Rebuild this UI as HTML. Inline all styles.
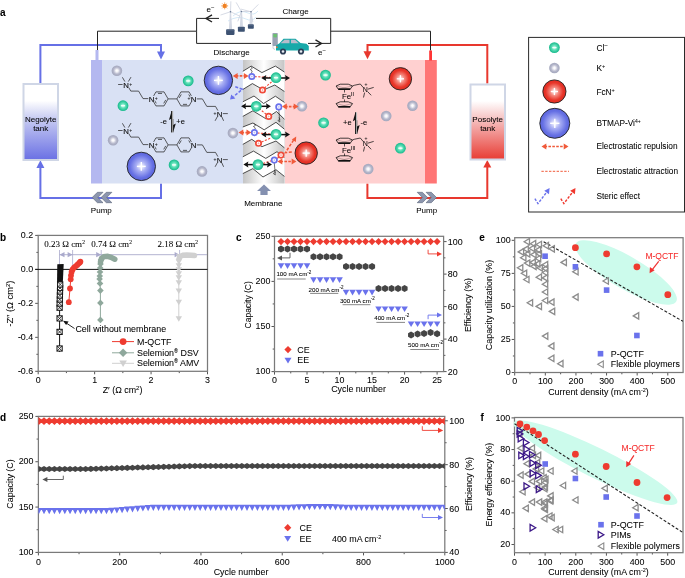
<!DOCTYPE html>
<html><head><meta charset="utf-8"><title>Figure</title>
<style>html,body{margin:0;padding:0;background:#fff;} svg{display:block;font-family:"Liberation Sans", sans-serif;will-change:transform;}</style>
</head><body><svg width="685" height="578" viewBox="0 0 685 578">
<defs>
 <radialGradient id="gGreen" cx="50%" cy="50%" r="50%"><stop offset="0" stop-color="#e8fff6"/><stop offset="0.45" stop-color="#5fe0b8"/><stop offset="1" stop-color="#14b88a"/></radialGradient>
 <radialGradient id="gGray" cx="50%" cy="50%" r="50%"><stop offset="0" stop-color="#ffffff"/><stop offset="0.3" stop-color="#e6e6ee"/><stop offset="0.65" stop-color="#b4b6ca"/><stop offset="1" stop-color="#a2a6bc"/></radialGradient>
 <radialGradient id="gRed" cx="50%" cy="50%" r="50%"><stop offset="0" stop-color="#ffffff"/><stop offset="0.35" stop-color="#f48a80"/><stop offset="0.75" stop-color="#e8362a"/><stop offset="1" stop-color="#e02a20"/></radialGradient>
 <radialGradient id="gBlue" cx="50%" cy="50%" r="50%"><stop offset="0" stop-color="#ffffff"/><stop offset="0.35" stop-color="#aab0f4"/><stop offset="0.8" stop-color="#6670e4"/><stop offset="1" stop-color="#5a64dc"/></radialGradient>
 <linearGradient id="gNeg" x1="0" y1="0" x2="0" y2="1"><stop offset="0" stop-color="#ffffff"/><stop offset="0.22" stop-color="#ffffff"/><stop offset="0.45" stop-color="#c8ccf2"/><stop offset="1" stop-color="#6a70e4"/></linearGradient>
 <linearGradient id="gPos" x1="0" y1="0" x2="0" y2="1"><stop offset="0" stop-color="#ffffff"/><stop offset="0.22" stop-color="#ffffff"/><stop offset="0.45" stop-color="#f6c4c4"/><stop offset="1" stop-color="#e83c34"/></linearGradient>
 <linearGradient id="gMem" x1="0" y1="0" x2="1" y2="0"><stop offset="0" stop-color="#c4c4c4"/><stop offset="0.5" stop-color="#ffffff"/><stop offset="1" stop-color="#c4c4c4"/></linearGradient>
 <marker id="mBk" viewBox="0 0 10 10" refX="9" refY="5" markerWidth="4" markerHeight="4" orient="auto-start-reverse"><path d="M0,0 L10,5 L0,10 z" fill="#000"/></marker>
</defs>
<text x="0.00" y="15.80" font-size="10" text-anchor="start" fill="#000" font-weight="bold" font-family='"Liberation Sans", sans-serif'  stroke="#000" stroke-width="0.06">a</text>
<path d="M212,14.8 L206,18.4 L212,22" stroke="#222" fill="none" stroke-width="1.4" />
<path d="M315.5,39.8 L321.5,43.4 L315.5,47" stroke="#222" fill="none" stroke-width="1.4" />
<text x="206.60" y="12.30" font-size="8" text-anchor="start" fill="#000" font-weight="normal" font-family='"Liberation Sans", sans-serif'  stroke="#000" stroke-width="0.06">e<tspan dy="-3.2" font-size="6">−</tspan></text>
<text x="318.00" y="55.30" font-size="8" text-anchor="start" fill="#000" font-weight="normal" font-family='"Liberation Sans", sans-serif'  stroke="#000" stroke-width="0.06">e<tspan dy="-3.2" font-size="6">−</tspan></text>
<text x="295.50" y="14.00" font-size="8" text-anchor="middle" fill="#000" font-weight="normal" font-family='"Liberation Sans", sans-serif'  stroke="#000" stroke-width="0.06">Charge</text>
<text x="231.60" y="55.30" font-size="8" text-anchor="middle" fill="#000" font-weight="normal" font-family='"Liberation Sans", sans-serif'  stroke="#000" stroke-width="0.06">Discharge</text>
<path d="M40.4,83 L40.4,44.9 L161,44.9 L161,55" stroke="#6670e6" fill="none" stroke-width="2" />
<path d="M157,51.6 L165,51.6 L161,59.5 z" stroke="none" fill="#6670e6" stroke-width="1" />
<path d="M161,183.5 L161,198 L40.4,198 L40.4,167" stroke="#6670e6" fill="none" stroke-width="2" />
<path d="M36.4,168 L44.4,168 L40.4,160.3 z" stroke="none" fill="#6670e6" stroke-width="1" />
<path d="M367.5,53 L367.5,44.9 L487.3,44.9 L487.3,83.5" stroke="#e8382e" fill="none" stroke-width="2" />
<path d="M363.5,51.3 L371.5,51.3 L367.5,59.2 z" stroke="none" fill="#e8382e" stroke-width="1" />
<path d="M367.4,183.5 L367.4,198 L487.3,198 L487.3,167" stroke="#e8382e" fill="none" stroke-width="2" />
<path d="M483.3,167.6 L491.3,167.6 L487.3,160 z" stroke="none" fill="#e8382e" stroke-width="1" />
<path d="M97.5,50 L97.5,31.2 L196.6,31.2" stroke="#222" fill="none" stroke-width="1" />
<path d="M196.6,31.2 L196.6,18.4 L219,18.4 M256,18.4 L330.7,18.4 L330.7,43.4 L308,43.4 M271,43.4 L196.6,43.4 L196.6,31.2" stroke="#222" fill="none" stroke-width="1" />
<path d="M330.7,31.2 L430.5,31.2 L430.5,50.5" stroke="#222" fill="none" stroke-width="1" />
<rect x="23.50" y="84.00" width="34.50" height="76.00" fill="url(#gNeg)" stroke="#cfd6e6" stroke-width="2" />
<text x="40.70" y="121.50" font-size="8" text-anchor="middle" fill="#000" font-weight="normal" font-family='"Liberation Sans", sans-serif'  stroke="#000" stroke-width="0.06">Negolyte</text>
<text x="40.70" y="130.50" font-size="8" text-anchor="middle" fill="#000" font-weight="normal" font-family='"Liberation Sans", sans-serif'  stroke="#000" stroke-width="0.06">tank</text>
<rect x="470.50" y="84.50" width="34.50" height="75.00" fill="url(#gPos)" stroke="#cfd6e6" stroke-width="2" />
<text x="487.70" y="121.50" font-size="8" text-anchor="middle" fill="#000" font-weight="normal" font-family='"Liberation Sans", sans-serif'  stroke="#000" stroke-width="0.06">Posolyte</text>
<text x="487.70" y="130.50" font-size="8" text-anchor="middle" fill="#000" font-weight="normal" font-family='"Liberation Sans", sans-serif'  stroke="#000" stroke-width="0.06">tank</text>
<rect x="102.00" y="60.00" width="141.00" height="123.50" fill="#d9e1f4" stroke="none" stroke-width="1" />
<rect x="91.00" y="60.00" width="11.00" height="123.50" fill="#b4b8f0" stroke="none" stroke-width="1" />
<rect x="95.50" y="50.00" width="3.00" height="10.00" fill="#b4b8f0" stroke="none" stroke-width="1" />
<rect x="285.00" y="60.00" width="140.00" height="123.50" fill="#ffd0d0" stroke="none" stroke-width="1" />
<rect x="425.00" y="60.00" width="11.80" height="123.50" fill="#ff7575" stroke="none" stroke-width="1" />
<rect x="429.20" y="50.50" width="2.80" height="10.00" fill="#ff3434" stroke="none" stroke-width="1" />
<rect x="243.00" y="60.00" width="41.60" height="123.50" fill="url(#gMem)" stroke="none" stroke-width="1" />
<path d="M92.20,197.50 L97.40,192.30 L103.00,192.30 L97.80,197.50 L103.00,202.70 L97.40,202.70 Z" stroke="#5a6478" fill="#8c96ae" stroke-width="0.6" />
<path d="M101.10,197.50 L106.30,192.30 L111.90,192.30 L106.70,197.50 L111.90,202.70 L106.30,202.70 Z" stroke="#5a6478" fill="#8c96ae" stroke-width="0.6" />
<path d="M417.20,192.30 L422.40,192.30 L427.60,197.50 L422.40,202.70 L417.20,202.70 L422.40,197.50 Z" stroke="#5a6478" fill="#8c96ae" stroke-width="0.6" />
<path d="M426.10,192.30 L431.30,192.30 L436.50,197.50 L431.30,202.70 L426.10,202.70 L431.30,197.50 Z" stroke="#5a6478" fill="#8c96ae" stroke-width="0.6" />
<text x="101.30" y="212.60" font-size="8" text-anchor="middle" fill="#000" font-weight="normal" font-family='"Liberation Sans", sans-serif'  stroke="#000" stroke-width="0.06">Pump</text>
<text x="426.70" y="212.60" font-size="8" text-anchor="middle" fill="#000" font-weight="normal" font-family='"Liberation Sans", sans-serif'  stroke="#000" stroke-width="0.06">Pump</text>
<path d="M264,184.5 L271,191 L267.6,191 L267.6,195 L260.4,195 L260.4,191 L257,191 z" stroke="none" fill="#8490b0" stroke-width="1" />
<text x="263.30" y="205.50" font-size="8" text-anchor="middle" fill="#000" font-weight="normal" font-family='"Liberation Sans", sans-serif'  stroke="#000" stroke-width="0.06">Membrane</text>
<rect x="528.60" y="37.40" width="155.90" height="174.60" fill="none" stroke="#2a2a2a" stroke-width="1" />
<path d="M118.1,84.5 L122.6,84.5 M122.4,77.3 L125.0,81.8 M131,77.1 L128.2,81.8" stroke="#2a2a2a" fill="none" stroke-width="0.75" />
<path d="M128.6,87.3 L130.8,91.1 L138.6,91.1 L143,98.6 L148.6,98.6" stroke="#2a2a2a" fill="none" stroke-width="0.75" fill="none"/>
<path d="M151.90,98.90 L155.95,91.89 M155.95,91.89 L164.05,91.89 M164.05,91.89 L168.10,98.90 M168.10,98.90 L164.05,105.91 M164.05,105.91 L155.95,105.91 M155.95,105.91 L151.90,98.90 " stroke="#2a2a2a" fill="none" stroke-width="0.75" />
<line x1="157.98" y1="93.43" x2="162.02" y2="93.43" stroke="#2a2a2a" stroke-width="0.75" />
<line x1="165.75" y1="99.88" x2="163.73" y2="103.39" stroke="#2a2a2a" stroke-width="0.75" />
<line x1="156.27" y1="103.39" x2="154.25" y2="99.88" stroke="#2a2a2a" stroke-width="0.75" />
<line x1="168.10" y1="98.90" x2="176.90" y2="98.90" stroke="#2a2a2a" stroke-width="0.75" />
<path d="M176.90,98.90 L180.95,91.89 M180.95,91.89 L189.05,91.89 M189.05,91.89 L193.10,98.90 M193.10,98.90 L189.05,105.91 M189.05,105.91 L180.95,105.91 M180.95,105.91 L176.90,98.90 " stroke="#2a2a2a" fill="none" stroke-width="0.75" />
<line x1="179.25" y1="97.92" x2="181.27" y2="94.41" stroke="#2a2a2a" stroke-width="0.75" />
<line x1="188.73" y1="94.41" x2="190.75" y2="97.92" stroke="#2a2a2a" stroke-width="0.75" />
<line x1="187.02" y1="104.37" x2="182.98" y2="104.37" stroke="#2a2a2a" stroke-width="0.75" />
<path d="M196.5,98.9 L202.4,98.9 L206.8,106.4 L215.5,106.4 L217.9,110.6" stroke="#2a2a2a" fill="none" stroke-width="0.75" />
<path d="M222.6,113.6 L227.8,113.6 M217.3,116.8 L215.1,120.8 M221.8,116.8 L223.6,120.8" stroke="#2a2a2a" fill="none" stroke-width="0.75" />
<rect x="123.00" y="81.70" width="6.20" height="6.00" fill="#d9e1f4" stroke="none" stroke-width="1" />
<text x="126.10" y="87.50" font-size="7.8" text-anchor="middle" fill="#111" font-weight="normal" font-family='"Liberation Sans", sans-serif' stroke="#111" stroke-width="0.15">N</text>
<text x="130.70" y="85.50" font-size="5" text-anchor="middle" fill="#111" font-weight="normal" font-family='"Liberation Sans", sans-serif'  stroke="#111" stroke-width="0.06">+</text>
<rect x="148.50" y="95.90" width="6.20" height="6.00" fill="#d9e1f4" stroke="none" stroke-width="1" />
<text x="151.60" y="101.70" font-size="7.8" text-anchor="middle" fill="#111" font-weight="normal" font-family='"Liberation Sans", sans-serif' stroke="#111" stroke-width="0.15">N</text>
<text x="156.20" y="99.70" font-size="5" text-anchor="middle" fill="#111" font-weight="normal" font-family='"Liberation Sans", sans-serif'  stroke="#111" stroke-width="0.06">+</text>
<rect x="190.40" y="95.90" width="6.20" height="6.00" fill="#d9e1f4" stroke="none" stroke-width="1" />
<text x="193.50" y="101.70" font-size="7.8" text-anchor="middle" fill="#111" font-weight="normal" font-family='"Liberation Sans", sans-serif' stroke="#111" stroke-width="0.15">N</text>
<text x="188.90" y="99.70" font-size="5" text-anchor="middle" fill="#111" font-weight="normal" font-family='"Liberation Sans", sans-serif'  stroke="#111" stroke-width="0.06">+</text>
<rect x="216.40" y="110.90" width="6.20" height="6.00" fill="#d9e1f4" stroke="none" stroke-width="1" />
<text x="219.50" y="116.70" font-size="7.8" text-anchor="middle" fill="#111" font-weight="normal" font-family='"Liberation Sans", sans-serif' stroke="#111" stroke-width="0.15">N</text>
<text x="214.90" y="114.70" font-size="5" text-anchor="middle" fill="#111" font-weight="normal" font-family='"Liberation Sans", sans-serif'  stroke="#111" stroke-width="0.06">+</text>
<path d="M118.1,130.5 L122.6,130.5 M122.4,123.3 L125.0,127.8 M131,123.1 L128.2,127.8" stroke="#2a2a2a" fill="none" stroke-width="0.75" />
<path d="M128.6,133.3 L130.8,137.1 L138.6,137.1 L143,144.6 L148.6,144.6" stroke="#2a2a2a" fill="none" stroke-width="0.75" fill="none"/>
<path d="M151.90,144.90 L155.95,137.89 M155.95,137.89 L164.05,137.89 M164.05,137.89 L168.10,144.90 M168.10,144.90 L164.05,151.91 M164.05,151.91 L155.95,151.91 M155.95,151.91 L151.90,144.90 " stroke="#2a2a2a" fill="none" stroke-width="0.75" />
<line x1="157.98" y1="139.43" x2="162.02" y2="139.43" stroke="#2a2a2a" stroke-width="0.75" />
<line x1="165.75" y1="145.88" x2="163.73" y2="149.39" stroke="#2a2a2a" stroke-width="0.75" />
<line x1="156.27" y1="149.39" x2="154.25" y2="145.88" stroke="#2a2a2a" stroke-width="0.75" />
<line x1="168.10" y1="144.90" x2="176.90" y2="144.90" stroke="#2a2a2a" stroke-width="0.75" />
<path d="M176.90,144.90 L180.95,137.89 M180.95,137.89 L189.05,137.89 M189.05,137.89 L193.10,144.90 M193.10,144.90 L189.05,151.91 M189.05,151.91 L180.95,151.91 M180.95,151.91 L176.90,144.90 " stroke="#2a2a2a" fill="none" stroke-width="0.75" />
<line x1="179.25" y1="143.92" x2="181.27" y2="140.41" stroke="#2a2a2a" stroke-width="0.75" />
<line x1="188.73" y1="140.41" x2="190.75" y2="143.92" stroke="#2a2a2a" stroke-width="0.75" />
<line x1="187.02" y1="150.37" x2="182.98" y2="150.37" stroke="#2a2a2a" stroke-width="0.75" />
<path d="M196.5,144.9 L202.4,144.9 L206.8,152.4 L215.5,152.4 L217.9,156.6" stroke="#2a2a2a" fill="none" stroke-width="0.75" />
<path d="M222.6,159.6 L227.8,159.6 M217.3,162.8 L215.1,166.8 M221.8,162.8 L223.6,166.8" stroke="#2a2a2a" fill="none" stroke-width="0.75" />
<rect x="123.00" y="127.70" width="6.20" height="6.00" fill="#d9e1f4" stroke="none" stroke-width="1" />
<text x="126.10" y="133.50" font-size="7.8" text-anchor="middle" fill="#111" font-weight="normal" font-family='"Liberation Sans", sans-serif' stroke="#111" stroke-width="0.15">N</text>
<text x="130.70" y="131.50" font-size="5" text-anchor="middle" fill="#111" font-weight="normal" font-family='"Liberation Sans", sans-serif'  stroke="#111" stroke-width="0.06">+</text>
<rect x="148.50" y="141.90" width="6.20" height="6.00" fill="#d9e1f4" stroke="none" stroke-width="1" />
<text x="151.60" y="147.70" font-size="7.8" text-anchor="middle" fill="#111" font-weight="normal" font-family='"Liberation Sans", sans-serif' stroke="#111" stroke-width="0.15">N</text>
<text x="156.20" y="145.70" font-size="5" text-anchor="middle" fill="#111" font-weight="normal" font-family='"Liberation Sans", sans-serif'  stroke="#111" stroke-width="0.06">+</text>
<rect x="190.40" y="141.90" width="6.20" height="6.00" fill="#d9e1f4" stroke="none" stroke-width="1" />
<text x="193.50" y="147.70" font-size="7.8" text-anchor="middle" fill="#111" font-weight="normal" font-family='"Liberation Sans", sans-serif' stroke="#111" stroke-width="0.15">N</text>
<rect x="216.40" y="156.90" width="6.20" height="6.00" fill="#d9e1f4" stroke="none" stroke-width="1" />
<text x="219.50" y="162.70" font-size="7.8" text-anchor="middle" fill="#111" font-weight="normal" font-family='"Liberation Sans", sans-serif' stroke="#111" stroke-width="0.15">N</text>
<text x="214.90" y="160.70" font-size="5" text-anchor="middle" fill="#111" font-weight="normal" font-family='"Liberation Sans", sans-serif'  stroke="#111" stroke-width="0.06">+</text>
<rect x="171.40" y="111.00" width="1.80" height="21.40" fill="#b8b8b8" stroke="none" stroke-width="1" />
<path d="M171.60,111.00 L171.60,132.40" stroke="#111" fill="none" stroke-width="0.9" />
<path d="M171.60,111.00 L169.00,120.00 L171.60,118.50 z" stroke="none" fill="#111" stroke-width="1" />
<path d="M173.10,132.40 L173.10,119.00" stroke="#777" fill="none" stroke-width="0.8" />
<path d="M173.10,132.40 L175.80,123.40 L173.10,124.90 z" stroke="none" fill="#111" stroke-width="1" />
<text x="163.70" y="123.80" font-size="7.5" text-anchor="middle" fill="#000" font-weight="normal" font-family='"Liberation Sans", sans-serif'  stroke="#000" stroke-width="0.06">-e</text>
<text x="180.60" y="123.80" font-size="7.5" text-anchor="middle" fill="#000" font-weight="normal" font-family='"Liberation Sans", sans-serif'  stroke="#000" stroke-width="0.06">+e</text>
<circle cx="116.90" cy="70.70" r="5.30" fill="url(#gGray)" stroke="none" stroke-width="1" />
<line x1="115.30" y1="70.70" x2="118.50" y2="70.70" stroke="#fff" stroke-width="0.8" opacity="0.8"/>
<line x1="116.90" y1="69.10" x2="116.90" y2="72.30" stroke="#fff" stroke-width="0.8" opacity="0.8"/>
<circle cx="113.10" cy="140.30" r="5.30" fill="url(#gGray)" stroke="none" stroke-width="1" />
<line x1="111.50" y1="140.30" x2="114.70" y2="140.30" stroke="#fff" stroke-width="0.8" opacity="0.8"/>
<line x1="113.10" y1="138.70" x2="113.10" y2="141.90" stroke="#fff" stroke-width="0.8" opacity="0.8"/>
<circle cx="232.90" cy="133.10" r="5.30" fill="url(#gGray)" stroke="none" stroke-width="1" />
<line x1="231.30" y1="133.10" x2="234.50" y2="133.10" stroke="#fff" stroke-width="0.8" opacity="0.8"/>
<line x1="232.90" y1="131.50" x2="232.90" y2="134.70" stroke="#fff" stroke-width="0.8" opacity="0.8"/>
<circle cx="202.00" cy="171.40" r="5.30" fill="url(#gGray)" stroke="none" stroke-width="1" />
<line x1="200.40" y1="171.40" x2="203.60" y2="171.40" stroke="#fff" stroke-width="0.8" opacity="0.8"/>
<line x1="202.00" y1="169.80" x2="202.00" y2="173.00" stroke="#fff" stroke-width="0.8" opacity="0.8"/>
<circle cx="188.20" cy="80.90" r="5.40" fill="url(#gGreen)" stroke="none" stroke-width="1" />
<line x1="186.10" y1="80.90" x2="190.30" y2="80.90" stroke="#f4fffb" stroke-width="1.3" />
<circle cx="123.00" cy="105.70" r="5.40" fill="url(#gGreen)" stroke="none" stroke-width="1" />
<line x1="120.90" y1="105.70" x2="125.10" y2="105.70" stroke="#f4fffb" stroke-width="1.3" />
<circle cx="174.10" cy="164.90" r="5.40" fill="url(#gGreen)" stroke="none" stroke-width="1" />
<line x1="172.00" y1="164.90" x2="176.20" y2="164.90" stroke="#f4fffb" stroke-width="1.3" />
<circle cx="218.40" cy="80.40" r="14.20" fill="url(#gBlue)" stroke="#222" stroke-width="0.9" />
<line x1="214.00" y1="80.40" x2="222.80" y2="80.40" stroke="#fff" stroke-width="1.4" />
<line x1="218.40" y1="76.00" x2="218.40" y2="84.80" stroke="#fff" stroke-width="1.4" />
<circle cx="141.30" cy="166.40" r="14.20" fill="url(#gBlue)" stroke="#222" stroke-width="0.9" />
<line x1="136.90" y1="166.40" x2="145.70" y2="166.40" stroke="#fff" stroke-width="1.4" />
<line x1="141.30" y1="162.00" x2="141.30" y2="170.80" stroke="#fff" stroke-width="1.4" />
<path d="M336.10,86.00 L340.20,84.20 L348.30,84.20 L352.50,86.00 L350.20,89.20 L338.30,89.20 Z" stroke="#111" fill="none" stroke-width="0.8" />
<path d="M338.30,89.20 L350.20,89.20" stroke="#111" fill="none" stroke-width="1.6" />
<path d="M336.10,86.00 L350.20,89.20 M352.50,86.00 L338.30,89.20" stroke="#111" fill="none" stroke-width="0.4" opacity="0.6"/>
<line x1="344.50" y1="90.00" x2="344.50" y2="92.50" stroke="#111" stroke-width="0.7" />
<text x="342.00" y="98.80" font-size="7.8" text-anchor="start" fill="#000" font-weight="normal" font-family='"Liberation Sans", sans-serif'  stroke="#000" stroke-width="0.06">Fe<tspan dy="-3.2" font-size="5.2">II</tspan></text>
<line x1="344.50" y1="99.50" x2="344.50" y2="102.00" stroke="#111" stroke-width="0.7" />
<path d="M336.10,103.60 L340.20,101.80 L348.30,101.80 L352.50,103.60 L350.20,106.80 L338.30,106.80 Z" stroke="#111" fill="none" stroke-width="0.8" />
<path d="M338.30,106.80 L350.20,106.80" stroke="#111" fill="none" stroke-width="1.6" />
<path d="M336.10,103.60 L350.20,106.80 M352.50,103.60 L338.30,106.80" stroke="#111" fill="none" stroke-width="0.4" opacity="0.6"/>
<path d="M352.5,86 L354.2,85.3 L360.3,84 L363.3,87.6" stroke="#111" fill="none" stroke-width="0.75" />
<path d="M367.8,89.2 L373.7,87.4 M367.6,91.6 L371.2,95.3 M364.6,92.6 L363.5,97.5" stroke="#111" fill="none" stroke-width="0.75" />
<text x="365.40" y="92.40" font-size="7" text-anchor="middle" fill="#111" font-weight="normal" font-family='"Liberation Sans", sans-serif'  stroke="#111" stroke-width="0.06">N</text>
<text x="366.00" y="86.00" font-size="5" text-anchor="middle" fill="#111" font-weight="normal" font-family='"Liberation Sans", sans-serif'  stroke="#111" stroke-width="0.06">+</text>
<path d="M336.10,140.00 L340.20,138.20 L348.30,138.20 L352.50,140.00 L350.20,143.20 L338.30,143.20 Z" stroke="#111" fill="none" stroke-width="0.8" />
<path d="M338.30,143.20 L350.20,143.20" stroke="#111" fill="none" stroke-width="1.6" />
<path d="M336.10,140.00 L350.20,143.20 M352.50,140.00 L338.30,143.20" stroke="#111" fill="none" stroke-width="0.4" opacity="0.6"/>
<line x1="344.50" y1="144.00" x2="344.50" y2="146.50" stroke="#111" stroke-width="0.7" />
<text x="342.00" y="152.80" font-size="7.8" text-anchor="start" fill="#000" font-weight="normal" font-family='"Liberation Sans", sans-serif'  stroke="#000" stroke-width="0.06">Fe<tspan dy="-3.2" font-size="5.2">III</tspan></text>
<line x1="344.50" y1="153.50" x2="344.50" y2="156.00" stroke="#111" stroke-width="0.7" />
<path d="M336.10,157.60 L340.20,155.80 L348.30,155.80 L352.50,157.60 L350.20,160.80 L338.30,160.80 Z" stroke="#111" fill="none" stroke-width="0.8" />
<path d="M338.30,160.80 L350.20,160.80" stroke="#111" fill="none" stroke-width="1.6" />
<path d="M336.10,157.60 L350.20,160.80 M352.50,157.60 L338.30,160.80" stroke="#111" fill="none" stroke-width="0.4" opacity="0.6"/>
<path d="M352.5,140 L354.2,139.3 L360.3,138 L363.3,141.6" stroke="#111" fill="none" stroke-width="0.75" />
<path d="M367.8,143.2 L373.7,141.4 M367.6,145.6 L371.2,149.3 M364.6,146.6 L363.5,151.5" stroke="#111" fill="none" stroke-width="0.75" />
<text x="365.40" y="146.40" font-size="7" text-anchor="middle" fill="#111" font-weight="normal" font-family='"Liberation Sans", sans-serif'  stroke="#111" stroke-width="0.06">N</text>
<text x="366.00" y="140.00" font-size="5" text-anchor="middle" fill="#111" font-weight="normal" font-family='"Liberation Sans", sans-serif'  stroke="#111" stroke-width="0.06">+</text>
<rect x="355.30" y="112.30" width="1.80" height="21.70" fill="#b8b8b8" stroke="none" stroke-width="1" />
<path d="M355.50,112.30 L355.50,134.00" stroke="#111" fill="none" stroke-width="0.9" />
<path d="M355.50,112.30 L352.90,121.30 L355.50,119.80 z" stroke="none" fill="#111" stroke-width="1" />
<path d="M357.00,134.00 L357.00,120.30" stroke="#777" fill="none" stroke-width="0.8" />
<path d="M357.00,134.00 L359.70,125.00 L357.00,126.50 z" stroke="none" fill="#111" stroke-width="1" />
<text x="347.30" y="124.80" font-size="7.5" text-anchor="middle" fill="#000" font-weight="normal" font-family='"Liberation Sans", sans-serif'  stroke="#000" stroke-width="0.06">+e</text>
<text x="363.80" y="124.80" font-size="7.5" text-anchor="middle" fill="#000" font-weight="normal" font-family='"Liberation Sans", sans-serif'  stroke="#000" stroke-width="0.06">-e</text>
<circle cx="301.90" cy="106.20" r="5.30" fill="url(#gGray)" stroke="none" stroke-width="1" />
<line x1="300.30" y1="106.20" x2="303.50" y2="106.20" stroke="#fff" stroke-width="0.8" opacity="0.8"/>
<line x1="301.90" y1="104.60" x2="301.90" y2="107.80" stroke="#fff" stroke-width="0.8" opacity="0.8"/>
<circle cx="412.50" cy="105.70" r="5.30" fill="url(#gGray)" stroke="none" stroke-width="1" />
<line x1="410.90" y1="105.70" x2="414.10" y2="105.70" stroke="#fff" stroke-width="0.8" opacity="0.8"/>
<line x1="412.50" y1="104.10" x2="412.50" y2="107.30" stroke="#fff" stroke-width="0.8" opacity="0.8"/>
<circle cx="386.20" cy="116.00" r="5.30" fill="url(#gGray)" stroke="none" stroke-width="1" />
<line x1="384.60" y1="116.00" x2="387.80" y2="116.00" stroke="#fff" stroke-width="0.8" opacity="0.8"/>
<line x1="386.20" y1="114.40" x2="386.20" y2="117.60" stroke="#fff" stroke-width="0.8" opacity="0.8"/>
<circle cx="368.20" cy="169.00" r="5.30" fill="url(#gGray)" stroke="none" stroke-width="1" />
<line x1="366.60" y1="169.00" x2="369.80" y2="169.00" stroke="#fff" stroke-width="0.8" opacity="0.8"/>
<line x1="368.20" y1="167.40" x2="368.20" y2="170.60" stroke="#fff" stroke-width="0.8" opacity="0.8"/>
<circle cx="325.50" cy="75.10" r="5.40" fill="url(#gGreen)" stroke="none" stroke-width="1" />
<line x1="323.40" y1="75.10" x2="327.60" y2="75.10" stroke="#f4fffb" stroke-width="1.3" />
<circle cx="323.60" cy="122.80" r="5.40" fill="url(#gGreen)" stroke="none" stroke-width="1" />
<line x1="321.50" y1="122.80" x2="325.70" y2="122.80" stroke="#f4fffb" stroke-width="1.3" />
<circle cx="400.40" cy="148.20" r="5.40" fill="url(#gGreen)" stroke="none" stroke-width="1" />
<line x1="398.30" y1="148.20" x2="402.50" y2="148.20" stroke="#f4fffb" stroke-width="1.3" />
<circle cx="400.40" cy="78.80" r="11.20" fill="url(#gRed)" stroke="#222" stroke-width="0.9" />
<line x1="396.80" y1="78.80" x2="404.00" y2="78.80" stroke="#fff" stroke-width="1.3" />
<line x1="400.40" y1="75.20" x2="400.40" y2="82.40" stroke="#fff" stroke-width="1.3" />
<circle cx="306.20" cy="153.10" r="11.20" fill="url(#gRed)" stroke="#222" stroke-width="0.9" />
<line x1="302.60" y1="153.10" x2="309.80" y2="153.10" stroke="#fff" stroke-width="1.3" />
<line x1="306.20" y1="149.50" x2="306.20" y2="156.70" stroke="#fff" stroke-width="1.3" />
<path d="M242.8,71.3 L251.2,66.1 L261.9,72.6 L275.4,66.1 L284.4,72.0 L284.4,91.5 L274.8,85.0 L263.5,90.0 L252.4,83.6 L242.8,89.5 Z" stroke="none" fill="#ffffff" stroke-width="1" />
<path d="M242.8,101.8 L254.0,96.0 L263.6,103.5 L275.4,96.2 L284.4,102.4 L284.4,119.2 L276.5,111.5 L265.8,118.7 L252.9,110.8 L242.8,116.4 Z" stroke="none" fill="#ffffff" stroke-width="1" />
<path d="M242.8,127.0 L252.9,123.0 L264.2,129.8 L276.0,122.3 L284.4,129.2 L284.4,147.8 L276.0,141.0 L261.9,146.7 L251.8,139.3 L242.8,144.4 Z" stroke="none" fill="#ffffff" stroke-width="1" />
<path d="M242.8,156.8 L253.5,151.1 L265.8,158.4 L277.0,151.7 L284.4,157.3 L284.4,176.4 L276.0,169.7 L263.0,177.0 L252.9,168.6 L242.8,173.6 Z" stroke="none" fill="#ffffff" stroke-width="1" />
<path d="M242.8,71.3 L251.2,66.1 L261.9,72.6 L275.4,66.1 L284.4,72.0" stroke="#222" fill="none" stroke-width="0.8" />
<path d="M242.8,89.5 L252.4,83.6 L263.5,90.0 L274.8,85.0 L284.4,91.5" stroke="#222" fill="none" stroke-width="0.8" />
<path d="M242.8,101.8 L254.0,96.0 L263.6,103.5 L275.4,96.2 L284.4,102.4" stroke="#222" fill="none" stroke-width="0.8" />
<path d="M242.8,116.4 L252.9,110.8 L265.8,118.7 L276.5,111.5 L284.4,119.2" stroke="#222" fill="none" stroke-width="0.8" />
<path d="M242.8,127.0 L252.9,123.0 L264.2,129.8 L276.0,122.3 L284.4,129.2" stroke="#222" fill="none" stroke-width="0.8" />
<path d="M242.8,144.4 L251.8,139.3 L261.9,146.7 L276.0,141.0 L284.4,147.8" stroke="#222" fill="none" stroke-width="0.8" />
<path d="M242.8,156.8 L253.5,151.1 L265.8,158.4 L277.0,151.7 L284.4,157.3" stroke="#222" fill="none" stroke-width="0.8" />
<path d="M242.8,173.6 L252.9,168.6 L263.0,177.0 L276.0,169.7 L284.4,176.4" stroke="#222" fill="none" stroke-width="0.8" />
<path d="M251.20,66.50 L252.20,68.50 L250.20,69.50 L252.20,71.00 L251.20,73.70" stroke="#222" fill="none" stroke-width="0.6" />
<line x1="254.60" y1="76.60" x2="271.00" y2="77.50" stroke="#f04a3a" stroke-width="1.1" stroke-dasharray="2.2,1.4"/>
<line x1="264.50" y1="88.00" x2="272.00" y2="81.50" stroke="#f04a3a" stroke-width="1.1" stroke-dasharray="2.2,1.4"/>
<line x1="264.30" y1="78.00" x2="287.00" y2="78.00" stroke="#111" stroke-width="1.5" />
<path d="M290.00,78.00 L285.00,75.00 L285.80,78.00 L285.00,81.00 z" stroke="none" fill="#111" stroke-width="1" />
<path d="M261.30,78.00 L266.30,75.00 L265.50,78.00 L266.30,81.00 z" stroke="none" fill="#111" stroke-width="1" />
<circle cx="276.00" cy="77.70" r="5.40" fill="url(#gGreen)" stroke="none" stroke-width="1" />
<line x1="273.90" y1="77.70" x2="278.10" y2="77.70" stroke="#f4fffb" stroke-width="1.3" />
<circle cx="251.80" cy="76.50" r="2.70" fill="#fff" stroke="#6a72ec" stroke-width="1.7" />
<line x1="250.70" y1="76.50" x2="252.90" y2="76.50" stroke="#6a72ec" stroke-width="0.5" opacity="0.6"/>
<line x1="251.80" y1="75.40" x2="251.80" y2="77.60" stroke="#6a72ec" stroke-width="0.5" opacity="0.6"/>
<circle cx="262.50" cy="90.00" r="2.70" fill="#fff" stroke="#f04a3a" stroke-width="1.7" />
<line x1="261.40" y1="90.00" x2="263.60" y2="90.00" stroke="#f04a3a" stroke-width="0.5" opacity="0.6"/>
<line x1="262.50" y1="88.90" x2="262.50" y2="91.10" stroke="#f04a3a" stroke-width="0.5" opacity="0.6"/>
<line x1="235.80" y1="75.90" x2="245.60" y2="75.90" stroke="#f05a3a" stroke-width="1.6" stroke-dasharray="2.6,1.3"/>
<path d="M248.60,75.90 L243.80,72.90 L243.80,78.90 z" stroke="none" fill="#f05a3a" stroke-width="1" />
<path d="M232.80,75.90 L237.60,72.90 L237.60,78.90 z" stroke="none" fill="#f05a3a" stroke-width="1" />
<line x1="244.10" y1="106.30" x2="267.90" y2="106.30" stroke="#111" stroke-width="1.5" />
<path d="M270.90,106.30 L265.90,103.30 L266.70,106.30 L265.90,109.30 z" stroke="none" fill="#111" stroke-width="1" />
<path d="M241.10,106.30 L246.10,103.30 L245.30,106.30 L246.10,109.30 z" stroke="none" fill="#111" stroke-width="1" />
<line x1="259.00" y1="108.50" x2="266.50" y2="114.50" stroke="#f04a3a" stroke-width="1.1" stroke-dasharray="2.2,1.4"/>
<circle cx="256.30" cy="106.30" r="5.40" fill="url(#gGreen)" stroke="none" stroke-width="1" />
<line x1="254.20" y1="106.30" x2="258.40" y2="106.30" stroke="#f4fffb" stroke-width="1.3" />
<path d="M278.80,117.50 L279.80,119.50 L277.80,120.50 L279.80,122.00 L278.80,109.70" stroke="#222" fill="none" stroke-width="0.6" />
<circle cx="278.80" cy="106.90" r="2.70" fill="#fff" stroke="#6a72ec" stroke-width="1.7" />
<line x1="277.70" y1="106.90" x2="279.90" y2="106.90" stroke="#6a72ec" stroke-width="0.5" opacity="0.6"/>
<line x1="278.80" y1="105.80" x2="278.80" y2="108.00" stroke="#6a72ec" stroke-width="0.5" opacity="0.6"/>
<circle cx="268.70" cy="116.40" r="2.70" fill="#fff" stroke="#f04a3a" stroke-width="1.7" />
<line x1="267.60" y1="116.40" x2="269.80" y2="116.40" stroke="#f04a3a" stroke-width="0.5" opacity="0.6"/>
<line x1="268.70" y1="115.30" x2="268.70" y2="117.50" stroke="#f04a3a" stroke-width="0.5" opacity="0.6"/>
<line x1="285.00" y1="106.60" x2="295.50" y2="106.60" stroke="#f05a3a" stroke-width="1.6" stroke-dasharray="2.6,1.3"/>
<path d="M298.50,106.60 L293.70,103.60 L293.70,109.60 z" stroke="none" fill="#f05a3a" stroke-width="1" />
<path d="M282.00,106.60 L286.80,103.60 L286.80,109.60 z" stroke="none" fill="#f05a3a" stroke-width="1" />
<path d="M254.40,123.50 L255.40,125.50 L253.40,126.50 L255.40,128.00 L254.40,129.80" stroke="#222" fill="none" stroke-width="0.6" />
<line x1="257.30" y1="133.00" x2="271.00" y2="134.00" stroke="#f04a3a" stroke-width="1.1" stroke-dasharray="2.2,1.4"/>
<line x1="261.50" y1="142.00" x2="271.00" y2="138.00" stroke="#f04a3a" stroke-width="1.1" stroke-dasharray="2.2,1.4"/>
<line x1="264.30" y1="134.60" x2="287.00" y2="134.60" stroke="#111" stroke-width="1.5" />
<path d="M290.00,134.60 L285.00,131.60 L285.80,134.60 L285.00,137.60 z" stroke="none" fill="#111" stroke-width="1" />
<path d="M261.30,134.60 L266.30,131.60 L265.50,134.60 L266.30,137.60 z" stroke="none" fill="#111" stroke-width="1" />
<circle cx="276.00" cy="134.30" r="5.40" fill="url(#gGreen)" stroke="none" stroke-width="1" />
<line x1="273.90" y1="134.30" x2="278.10" y2="134.30" stroke="#f4fffb" stroke-width="1.3" />
<circle cx="254.40" cy="132.60" r="2.70" fill="#fff" stroke="#6a72ec" stroke-width="1.7" />
<line x1="253.30" y1="132.60" x2="255.50" y2="132.60" stroke="#6a72ec" stroke-width="0.5" opacity="0.6"/>
<line x1="254.40" y1="131.50" x2="254.40" y2="133.70" stroke="#6a72ec" stroke-width="0.5" opacity="0.6"/>
<circle cx="258.50" cy="143.30" r="2.70" fill="#fff" stroke="#f04a3a" stroke-width="1.7" />
<line x1="257.40" y1="143.30" x2="259.60" y2="143.30" stroke="#f04a3a" stroke-width="0.5" opacity="0.6"/>
<line x1="258.50" y1="142.20" x2="258.50" y2="144.40" stroke="#f04a3a" stroke-width="0.5" opacity="0.6"/>
<line x1="241.50" y1="132.60" x2="248.30" y2="132.60" stroke="#f05a3a" stroke-width="1.6" stroke-dasharray="2.6,1.3"/>
<path d="M251.30,132.60 L246.50,129.60 L246.50,135.60 z" stroke="none" fill="#f05a3a" stroke-width="1" />
<path d="M238.50,132.60 L243.30,129.60 L243.30,135.60 z" stroke="none" fill="#f05a3a" stroke-width="1" />
<line x1="263.00" y1="163.50" x2="272.00" y2="160.50" stroke="#f04a3a" stroke-width="1.1" stroke-dasharray="2.2,1.4"/>
<line x1="277.00" y1="158.50" x2="280.00" y2="156.50" stroke="#f04a3a" stroke-width="1.1" stroke-dasharray="2.2,1.4"/>
<line x1="246.40" y1="164.60" x2="269.00" y2="164.60" stroke="#111" stroke-width="1.5" />
<path d="M272.00,164.60 L267.00,161.60 L267.80,164.60 L267.00,167.60 z" stroke="none" fill="#111" stroke-width="1" />
<path d="M243.40,164.60 L248.40,161.60 L247.60,164.60 L248.40,167.60 z" stroke="none" fill="#111" stroke-width="1" />
<circle cx="258.00" cy="164.60" r="5.40" fill="url(#gGreen)" stroke="none" stroke-width="1" />
<line x1="255.90" y1="164.60" x2="260.10" y2="164.60" stroke="#f4fffb" stroke-width="1.3" />
<path d="M274.30,170.50 L275.30,172.50 L273.30,173.50 L275.30,175.00 L274.30,163.00" stroke="#222" fill="none" stroke-width="0.6" />
<circle cx="274.30" cy="160.10" r="2.70" fill="#fff" stroke="#6a72ec" stroke-width="1.7" />
<line x1="273.20" y1="160.10" x2="275.40" y2="160.10" stroke="#6a72ec" stroke-width="0.5" opacity="0.6"/>
<line x1="274.30" y1="159.00" x2="274.30" y2="161.20" stroke="#6a72ec" stroke-width="0.5" opacity="0.6"/>
<circle cx="281.00" cy="155.10" r="2.70" fill="#fff" stroke="#f04a3a" stroke-width="1.7" />
<line x1="279.90" y1="155.10" x2="282.10" y2="155.10" stroke="#f04a3a" stroke-width="0.5" opacity="0.6"/>
<line x1="281.00" y1="154.00" x2="281.00" y2="156.20" stroke="#f04a3a" stroke-width="0.5" opacity="0.6"/>
<line x1="280.50" y1="161.50" x2="293.40" y2="161.50" stroke="#f05a3a" stroke-width="1.6" stroke-dasharray="2.6,1.3"/>
<path d="M296.40,161.50 L291.60,158.50 L291.60,164.50 z" stroke="none" fill="#f05a3a" stroke-width="1" />
<path d="M277.50,161.50 L282.30,158.50 L282.30,164.50 z" stroke="none" fill="#f05a3a" stroke-width="1" />
<path d="M291.8,152.1 L285.4,152.6 L293.9,139.6" stroke="#f05a3a" fill="none" stroke-width="1.5" stroke-dasharray="3,1.6"/>
<path d="M296.2,136.6 L295.9,141.9 L291.8,139.4 z" stroke="none" fill="#f05a3a" stroke-width="1" />
<path d="M235.3,86.8 L242.3,89.2 L233.6,96.6" stroke="#6a72ec" fill="none" stroke-width="1.5" stroke-dasharray="3,1.6"/>
<path d="M230.1,99.6 L231.2,94.6 L235.4,98.4 z" stroke="none" fill="#6a72ec" stroke-width="1" />
<circle cx="554.40" cy="47.60" r="5.40" fill="url(#gGreen)" stroke="none" stroke-width="1" />
<line x1="552.30" y1="47.60" x2="556.50" y2="47.60" stroke="#f4fffb" stroke-width="1.3" />
<text x="596.40" y="50.60" font-size="8.3" text-anchor="start" fill="#000" font-weight="normal" font-family='"Liberation Sans", sans-serif'  stroke="#000" stroke-width="0.06">Cl<tspan dy="-3" font-size="6.5">−</tspan></text>
<circle cx="554.40" cy="68.00" r="5.30" fill="url(#gGray)" stroke="none" stroke-width="1" />
<line x1="552.80" y1="68.00" x2="556.00" y2="68.00" stroke="#fff" stroke-width="0.8" opacity="0.8"/>
<line x1="554.40" y1="66.40" x2="554.40" y2="69.60" stroke="#fff" stroke-width="0.8" opacity="0.8"/>
<text x="596.40" y="71.00" font-size="8.3" text-anchor="start" fill="#000" font-weight="normal" font-family='"Liberation Sans", sans-serif'  stroke="#000" stroke-width="0.06">K<tspan dy="-3" font-size="5.5">+</tspan></text>
<circle cx="554.40" cy="91.50" r="11.60" fill="url(#gRed)" stroke="#222" stroke-width="0.9" />
<line x1="550.80" y1="91.50" x2="558.00" y2="91.50" stroke="#fff" stroke-width="1.3" />
<line x1="554.40" y1="87.90" x2="554.40" y2="95.10" stroke="#fff" stroke-width="1.3" />
<text x="596.40" y="95.20" font-size="8.3" text-anchor="start" fill="#000" font-weight="normal" font-family='"Liberation Sans", sans-serif'  stroke="#000" stroke-width="0.06">FcN<tspan dy="-3" font-size="5.5">+</tspan></text>
<circle cx="554.80" cy="123.30" r="15.00" fill="url(#gBlue)" stroke="#222" stroke-width="0.9" />
<line x1="550.20" y1="123.30" x2="559.40" y2="123.30" stroke="#fff" stroke-width="1.4" />
<line x1="554.80" y1="118.70" x2="554.80" y2="127.90" stroke="#fff" stroke-width="1.4" />
<text x="596.40" y="126.10" font-size="8.3" text-anchor="start" fill="#000" font-weight="normal" font-family='"Liberation Sans", sans-serif'  stroke="#000" stroke-width="0.06">BTMAP-Vi<tspan dy="-3" font-size="5">4+</tspan></text>
<line x1="544.50" y1="146.50" x2="565.50" y2="146.50" stroke="#f05a3a" stroke-width="1.6" stroke-dasharray="2.6,1.3"/>
<path d="M568.50,146.50 L563.70,143.50 L563.70,149.50 z" stroke="none" fill="#f05a3a" stroke-width="1" />
<path d="M541.50,146.50 L546.30,143.50 L546.30,149.50 z" stroke="none" fill="#f05a3a" stroke-width="1" />
<text x="596.40" y="149.30" font-size="8.3" text-anchor="start" fill="#000" font-weight="normal" font-family='"Liberation Sans", sans-serif'  stroke="#000" stroke-width="0.06">Electrostatic repulsion</text>
<line x1="541.40" y1="171.30" x2="569.00" y2="171.30" stroke="#f05a3a" stroke-width="1.0" stroke-dasharray="2.4,1.4"/>
<text x="596.40" y="174.10" font-size="8.3" text-anchor="start" fill="#000" font-weight="normal" font-family='"Liberation Sans", sans-serif'  stroke="#000" stroke-width="0.06">Electrostatic attraction</text>
<path d="M534.9,198.6 L538.0,203.6 L546.6,192.2" stroke="#6a72ec" fill="none" stroke-width="1.4" stroke-dasharray="2.6,1.5"/>
<path d="M549.6,188.0 L549.0,194.3 L544.3,190.8 z" stroke="none" fill="#6a72ec" stroke-width="1" />
<path d="M560.8,198.6 L563.9,203.6 L572.5,192.2" stroke="#f0382e" fill="none" stroke-width="1.4" stroke-dasharray="2.6,1.5"/>
<path d="M575.5,188.0 L574.9,194.3 L570.2,190.8 z" stroke="none" fill="#f0382e" stroke-width="1" />
<text x="596.40" y="198.70" font-size="8.3" text-anchor="start" fill="#000" font-weight="normal" font-family='"Liberation Sans", sans-serif'  stroke="#000" stroke-width="0.06">Steric effect</text>
<circle cx="224.70" cy="5.90" r="2.20" fill="#f08020" stroke="none" stroke-width="1" />
<line x1="226.90" y1="5.90" x2="228.10" y2="5.90" stroke="#f08020" stroke-width="0.8" />
<line x1="226.26" y1="7.46" x2="227.10" y2="8.30" stroke="#f08020" stroke-width="0.8" />
<line x1="224.70" y1="8.10" x2="224.70" y2="9.30" stroke="#f08020" stroke-width="0.8" />
<line x1="223.14" y1="7.46" x2="222.30" y2="8.30" stroke="#f08020" stroke-width="0.8" />
<line x1="222.50" y1="5.90" x2="221.30" y2="5.90" stroke="#f08020" stroke-width="0.8" />
<line x1="223.14" y1="4.34" x2="222.30" y2="3.50" stroke="#f08020" stroke-width="0.8" />
<line x1="224.70" y1="3.70" x2="224.70" y2="2.50" stroke="#f08020" stroke-width="0.8" />
<line x1="226.26" y1="4.34" x2="227.10" y2="3.50" stroke="#f08020" stroke-width="0.8" />
<path d="M233,16 Q240,9 248,13 Q254,16 258,11" stroke="#b8dcf4" fill="none" stroke-width="0.6" />
<path d="M228,21 Q238,15 246,19 Q252,22 256,17" stroke="#b8dcf4" fill="none" stroke-width="0.6" />
<path d="M229.90,11.80 L231.10,11.80 L232.10,29.30 L228.90,29.30 z" stroke="none" fill="#d4d9e4" stroke-width="1" />
<line x1="230.50" y1="11.80" x2="230.87" y2="1.31" stroke="#cdd2de" stroke-width="0.8" />
<line x1="230.50" y1="11.80" x2="240.02" y2="16.24" stroke="#cdd2de" stroke-width="0.8" />
<line x1="230.50" y1="11.80" x2="220.51" y2="15.04" stroke="#cdd2de" stroke-width="0.8" />
<circle cx="230.50" cy="11.80" r="0.80" fill="#6a7a94" stroke="none" stroke-width="1" />
<rect x="226.10" y="29.30" width="8.40" height="5.60" fill="#3d5272" stroke="none" stroke-width="1" rx="0.8"/>
<line x1="226.10" y1="30.50" x2="234.50" y2="30.50" stroke="#5a6e8e" stroke-width="0.5" />
<path d="M240.80,11.50 L242.00,11.50 L243.00,26.80 L239.80,26.80 z" stroke="none" fill="#d4d9e4" stroke-width="1" />
<line x1="241.40" y1="11.50" x2="236.15" y2="2.41" stroke="#cdd2de" stroke-width="0.8" />
<line x1="241.40" y1="11.50" x2="251.90" y2="11.50" stroke="#cdd2de" stroke-width="0.8" />
<line x1="241.40" y1="11.50" x2="237.81" y2="21.37" stroke="#cdd2de" stroke-width="0.8" />
<circle cx="241.40" cy="11.50" r="0.80" fill="#6a7a94" stroke="none" stroke-width="1" />
<rect x="237.90" y="26.80" width="6.90" height="5.00" fill="#3d5272" stroke="none" stroke-width="1" rx="0.8"/>
<line x1="237.90" y1="28.00" x2="244.80" y2="28.00" stroke="#5a6e8e" stroke-width="0.5" />
<path d="M250.40,11.80 L251.60,11.80 L252.60,24.30 L249.40,24.30 z" stroke="none" fill="#d4d9e4" stroke-width="1" />
<line x1="251.00" y1="11.80" x2="258.42" y2="4.38" stroke="#cdd2de" stroke-width="0.8" />
<line x1="251.00" y1="11.80" x2="240.86" y2="9.08" stroke="#cdd2de" stroke-width="0.8" />
<line x1="251.00" y1="11.80" x2="252.82" y2="22.14" stroke="#cdd2de" stroke-width="0.8" />
<circle cx="251.00" cy="11.80" r="0.80" fill="#6a7a94" stroke="none" stroke-width="1" />
<rect x="247.90" y="24.30" width="5.90" height="4.40" fill="#3d5272" stroke="none" stroke-width="1" rx="0.8"/>
<line x1="247.90" y1="25.50" x2="253.80" y2="25.50" stroke="#5a6e8e" stroke-width="0.5" />
<rect x="272.40" y="33.00" width="5.40" height="13.00" fill="#9aa2b4" stroke="none" stroke-width="1" rx="0.8"/>
<rect x="273.30" y="34.00" width="3.60" height="3.40" fill="#6cc070" stroke="none" stroke-width="1" />
<path d="M273,46 Q272,49 275,49.5" stroke="#c0c4d0" fill="none" stroke-width="0.8" />
<path d="M276,50.5 L276,45.5 L279.5,43.2 L283.5,38.8 L295.5,38.8 L300.5,43 L306.5,43.8 L308.8,46 L308.8,50.5 Z" stroke="none" fill="#17a9a9" stroke-width="1" />
<path d="M280.5,43.2 L284.5,39.8 L289.5,39.8 L289.5,43.2 Z M291,43.2 L291,39.8 L295,39.8 L298.8,43.2 Z" stroke="none" fill="#b8bccb" stroke-width="1" />
<circle cx="283.00" cy="51.50" r="3.10" fill="#2d3e56" stroke="none" stroke-width="1" />
<circle cx="283.00" cy="51.50" r="1.30" fill="#e8ecf2" stroke="none" stroke-width="1" />
<circle cx="301.00" cy="51.50" r="3.10" fill="#2d3e56" stroke="none" stroke-width="1" />
<circle cx="301.00" cy="51.50" r="1.30" fill="#e8ecf2" stroke="none" stroke-width="1" />
<rect x="276.00" y="46.50" width="1.60" height="1.40" fill="#f07030" stroke="none" stroke-width="1" />
<text x="0.00" y="241.00" font-size="10" text-anchor="start" fill="#000" font-weight="bold" font-family='"Liberation Sans", sans-serif'  stroke="#000" stroke-width="0.06">b</text>
<line x1="35.20" y1="235.40" x2="38.20" y2="235.40" stroke="#555" stroke-width="1" />
<text x="33.20" y="238.00" font-size="8.9" text-anchor="end" fill="#000" font-weight="normal" font-family='"Liberation Sans", sans-serif'  stroke="#000" stroke-width="0.06">0.2</text>
<line x1="35.20" y1="269.38" x2="38.20" y2="269.38" stroke="#555" stroke-width="1" />
<text x="33.20" y="271.98" font-size="8.9" text-anchor="end" fill="#000" font-weight="normal" font-family='"Liberation Sans", sans-serif'  stroke="#000" stroke-width="0.06">0.0</text>
<line x1="35.20" y1="303.35" x2="38.20" y2="303.35" stroke="#555" stroke-width="1" />
<text x="33.20" y="305.95" font-size="8.9" text-anchor="end" fill="#000" font-weight="normal" font-family='"Liberation Sans", sans-serif'  stroke="#000" stroke-width="0.06">-0.2</text>
<line x1="35.20" y1="337.33" x2="38.20" y2="337.33" stroke="#555" stroke-width="1" />
<text x="33.20" y="339.93" font-size="8.9" text-anchor="end" fill="#000" font-weight="normal" font-family='"Liberation Sans", sans-serif'  stroke="#000" stroke-width="0.06">-0.4</text>
<line x1="35.20" y1="371.30" x2="38.20" y2="371.30" stroke="#555" stroke-width="1" />
<text x="33.20" y="373.90" font-size="8.9" text-anchor="end" fill="#000" font-weight="normal" font-family='"Liberation Sans", sans-serif'  stroke="#000" stroke-width="0.06">-0.6</text>
<line x1="36.40" y1="252.39" x2="38.20" y2="252.39" stroke="#555" stroke-width="1" />
<line x1="36.40" y1="286.36" x2="38.20" y2="286.36" stroke="#555" stroke-width="1" />
<line x1="36.40" y1="320.34" x2="38.20" y2="320.34" stroke="#555" stroke-width="1" />
<line x1="36.40" y1="354.31" x2="38.20" y2="354.31" stroke="#555" stroke-width="1" />
<line x1="38.20" y1="371.30" x2="38.20" y2="374.30" stroke="#555" stroke-width="1" />
<text x="38.20" y="383.20" font-size="8.9" text-anchor="middle" fill="#000" font-weight="normal" font-family='"Liberation Sans", sans-serif'  stroke="#000" stroke-width="0.06">0</text>
<line x1="94.63" y1="371.30" x2="94.63" y2="374.30" stroke="#555" stroke-width="1" />
<text x="94.63" y="383.20" font-size="8.9" text-anchor="middle" fill="#000" font-weight="normal" font-family='"Liberation Sans", sans-serif'  stroke="#000" stroke-width="0.06">1</text>
<line x1="151.07" y1="371.30" x2="151.07" y2="374.30" stroke="#555" stroke-width="1" />
<text x="151.07" y="383.20" font-size="8.9" text-anchor="middle" fill="#000" font-weight="normal" font-family='"Liberation Sans", sans-serif'  stroke="#000" stroke-width="0.06">2</text>
<line x1="207.50" y1="371.30" x2="207.50" y2="374.30" stroke="#555" stroke-width="1" />
<text x="207.50" y="383.20" font-size="8.9" text-anchor="middle" fill="#000" font-weight="normal" font-family='"Liberation Sans", sans-serif'  stroke="#000" stroke-width="0.06">3</text>
<line x1="66.42" y1="371.30" x2="66.42" y2="373.10" stroke="#555" stroke-width="1" />
<line x1="122.85" y1="371.30" x2="122.85" y2="373.10" stroke="#555" stroke-width="1" />
<line x1="179.28" y1="371.30" x2="179.28" y2="373.10" stroke="#555" stroke-width="1" />
<rect x="38.20" y="235.40" width="169.30" height="135.90" fill="none" stroke="#7a7a7a" stroke-width="1.25" />
<line x1="35.20" y1="269.38" x2="207.50" y2="269.38" stroke="#111" stroke-width="1" />
<text x="122.50" y="392.60" font-size="8.9" text-anchor="middle" fill="#000" font-weight="normal" font-family='"Liberation Sans", sans-serif'  stroke="#000" stroke-width="0.06">Z′ (Ω cm<tspan dy="-3" font-size="6">2</tspan><tspan dy="3">)</tspan></text>
<text x="0.00" y="0.00" font-size="9.3" text-anchor="middle" fill="#000" font-weight="normal" font-family='"Liberation Sans", sans-serif' transform="translate(12.8,303.6) rotate(-90)" stroke="#000" stroke-width="0.06">-Z″ (Ω cm<tspan dy="-3" font-size="6">2</tspan><tspan dy="3">)</tspan></text>
<text x="44.20" y="247.40" font-size="9" text-anchor="start" fill="#000" font-weight="normal" font-family='"Liberation Serif", serif'  stroke="#000" stroke-width="0.06">0.23 Ω cm<tspan dy="-3.5" font-size="5.5">2</tspan></text>
<text x="91.20" y="247.40" font-size="9" text-anchor="start" fill="#000" font-weight="normal" font-family='"Liberation Serif", serif'  stroke="#000" stroke-width="0.06">0.74 Ω cm<tspan dy="-3.5" font-size="5.5">2</tspan></text>
<text x="157.40" y="247.40" font-size="9" text-anchor="start" fill="#000" font-weight="normal" font-family='"Liberation Serif", serif'  stroke="#000" stroke-width="0.06">2.18 Ω cm<tspan dy="-3.5" font-size="5.5">2</tspan></text>
<line x1="59.50" y1="250.00" x2="59.50" y2="268.00" stroke="#aaaacc" stroke-width="0.8" />
<line x1="72.60" y1="250.00" x2="72.60" y2="268.00" stroke="#aaaacc" stroke-width="0.8" />
<line x1="101.20" y1="250.00" x2="101.20" y2="268.00" stroke="#aaaacc" stroke-width="0.8" />
<line x1="179.60" y1="250.00" x2="179.60" y2="268.00" stroke="#aaaacc" stroke-width="0.8" />
<line x1="59.50" y1="254.70" x2="207.00" y2="254.70" stroke="#aaaacc" stroke-width="0.9" />
<path d="M64.50,252.10 L59.50,254.7 L64.50,257.30 z" stroke="none" fill="#aaaacc" stroke-width="1" />
<path d="M67.60,252.10 L72.60,254.7 L67.60,257.30 z" stroke="none" fill="#aaaacc" stroke-width="1" />
<path d="M96.20,252.10 L101.20,254.7 L96.20,257.30 z" stroke="none" fill="#aaaacc" stroke-width="1" />
<path d="M174.60,252.10 L179.60,254.7 L174.60,257.30 z" stroke="none" fill="#aaaacc" stroke-width="1" />
<path d="M179.0,257.0 L178.8,262.0 L178.8,266.0 L178.8,270.0 L178.8,274.0 L178.8,278.0 L178.8,283.0 L178.8,291.2 L178.8,302.5 L178.8,318.9" stroke="#d0d0d0" fill="none" stroke-width="1" />
<path d="M179.0,259.0 L180.0,256.5 L183.0,255.3 L187.0,255.0 L191.0,255.2 L194.5,255.6" stroke="#d0d0d0" fill="none" stroke-width="5.5" stroke-linecap="round"/>
<path d="M175.80,254.25 L182.20,254.25 L179.00,259.75 Z" stroke="none" fill="#d0d0d0" stroke-width="1" />
<path d="M175.60,259.25 L182.00,259.25 L178.80,264.75 Z" stroke="none" fill="#d0d0d0" stroke-width="1" />
<path d="M175.60,263.25 L182.00,263.25 L178.80,268.75 Z" stroke="none" fill="#d0d0d0" stroke-width="1" />
<path d="M175.60,267.25 L182.00,267.25 L178.80,272.75 Z" stroke="none" fill="#d0d0d0" stroke-width="1" />
<path d="M175.60,271.25 L182.00,271.25 L178.80,276.75 Z" stroke="none" fill="#d0d0d0" stroke-width="1" />
<path d="M175.60,275.25 L182.00,275.25 L178.80,280.75 Z" stroke="none" fill="#d0d0d0" stroke-width="1" />
<path d="M175.60,280.25 L182.00,280.25 L178.80,285.75 Z" stroke="none" fill="#d0d0d0" stroke-width="1" />
<path d="M175.60,288.45 L182.00,288.45 L178.80,293.95 Z" stroke="none" fill="#d0d0d0" stroke-width="1" />
<path d="M175.60,299.75 L182.00,299.75 L178.80,305.25 Z" stroke="none" fill="#d0d0d0" stroke-width="1" />
<path d="M175.60,316.15 L182.00,316.15 L178.80,321.65 Z" stroke="none" fill="#d0d0d0" stroke-width="1" />
<path d="M101.0,260.0 L100.5,264.0 L100.2,268.0 L100.0,272.0 L99.8,276.0 L99.6,279.0 L100.0,283.4 L100.4,290.6 L100.4,302.9 L100.4,319.9" stroke="#8fa89c" fill="none" stroke-width="1" />
<path d="M100.5,262.0 L101.5,258.5 L104.0,256.6 L107.5,256.3 L111.0,257.3 L114.8,259.2" stroke="#8fa89c" fill="none" stroke-width="5.5" stroke-linecap="round"/>
<path d="M101.00,256.70 L104.30,260.00 L101.00,263.30 L97.70,260.00 Z" stroke="none" fill="#8fa89c" stroke-width="1" />
<path d="M100.50,260.70 L103.80,264.00 L100.50,267.30 L97.20,264.00 Z" stroke="none" fill="#8fa89c" stroke-width="1" />
<path d="M100.20,264.70 L103.50,268.00 L100.20,271.30 L96.90,268.00 Z" stroke="none" fill="#8fa89c" stroke-width="1" />
<path d="M100.00,268.70 L103.30,272.00 L100.00,275.30 L96.70,272.00 Z" stroke="none" fill="#8fa89c" stroke-width="1" />
<path d="M99.80,272.70 L103.10,276.00 L99.80,279.30 L96.50,276.00 Z" stroke="none" fill="#8fa89c" stroke-width="1" />
<path d="M99.60,275.70 L102.90,279.00 L99.60,282.30 L96.30,279.00 Z" stroke="none" fill="#8fa89c" stroke-width="1" />
<path d="M100.00,280.10 L103.30,283.40 L100.00,286.70 L96.70,283.40 Z" stroke="none" fill="#8fa89c" stroke-width="1" />
<path d="M100.40,287.30 L103.70,290.60 L100.40,293.90 L97.10,290.60 Z" stroke="none" fill="#8fa89c" stroke-width="1" />
<path d="M100.40,299.60 L103.70,302.90 L100.40,306.20 L97.10,302.90 Z" stroke="none" fill="#8fa89c" stroke-width="1" />
<path d="M100.40,316.60 L103.70,319.90 L100.40,323.20 L97.10,319.90 Z" stroke="none" fill="#8fa89c" stroke-width="1" />
<path d="M68.8,305 L68.8,302.2 L70.0,288.5 L70.7,279.3 L71.0,275.5 L71.6,272.0 L72.6,269.5 L74.0,267.6 L75.6,266.3 L77.2,265.0 L78.6,263.6 L79.8,262.4 L80.4,261.6" stroke="#ee3b30" fill="none" stroke-width="1" />
<circle cx="68.80" cy="302.20" r="2.90" fill="#ee3b30" stroke="none" stroke-width="1" />
<circle cx="70.00" cy="288.50" r="2.90" fill="#ee3b30" stroke="none" stroke-width="1" />
<circle cx="70.70" cy="279.30" r="2.90" fill="#ee3b30" stroke="none" stroke-width="1" />
<circle cx="71.00" cy="275.50" r="2.90" fill="#ee3b30" stroke="none" stroke-width="1" />
<circle cx="71.60" cy="272.00" r="2.90" fill="#ee3b30" stroke="none" stroke-width="1" />
<circle cx="72.60" cy="269.50" r="2.90" fill="#ee3b30" stroke="none" stroke-width="1" />
<circle cx="74.00" cy="267.60" r="2.90" fill="#ee3b30" stroke="none" stroke-width="1" />
<circle cx="75.60" cy="266.30" r="2.90" fill="#ee3b30" stroke="none" stroke-width="1" />
<circle cx="77.20" cy="265.00" r="2.90" fill="#ee3b30" stroke="none" stroke-width="1" />
<circle cx="78.60" cy="263.60" r="2.90" fill="#ee3b30" stroke="none" stroke-width="1" />
<circle cx="79.80" cy="262.40" r="2.90" fill="#ee3b30" stroke="none" stroke-width="1" />
<circle cx="80.40" cy="261.60" r="2.90" fill="#ee3b30" stroke="none" stroke-width="1" />
<path d="M59.6,352 L59.6,348.5 L59.6,331.9 L59.6,318.4 L59.6,307.7 L59.7,303.5 L59.8,299.5 L59.9,295.5 L60.0,291.5 L60.1,288.0 L60.2,284.5" stroke="#111" fill="none" stroke-width="1" />
<path d="M57.3,264.3 L63.7,264.0 L62.8,283 L57.0,283 z" stroke="none" fill="#111" stroke-width="1" />
<rect x="57.00" y="345.90" width="5.20" height="5.20" fill="#fff" stroke="#111" stroke-width="1" />
<line x1="57.00" y1="345.90" x2="62.20" y2="351.10" stroke="#111" stroke-width="0.8" />
<line x1="57.00" y1="351.10" x2="62.20" y2="345.90" stroke="#111" stroke-width="0.8" />
<rect x="57.00" y="329.30" width="5.20" height="5.20" fill="#fff" stroke="#111" stroke-width="1" />
<line x1="57.00" y1="329.30" x2="62.20" y2="334.50" stroke="#111" stroke-width="0.8" />
<line x1="57.00" y1="334.50" x2="62.20" y2="329.30" stroke="#111" stroke-width="0.8" />
<rect x="57.00" y="315.80" width="5.20" height="5.20" fill="#fff" stroke="#111" stroke-width="1" />
<line x1="57.00" y1="315.80" x2="62.20" y2="321.00" stroke="#111" stroke-width="0.8" />
<line x1="57.00" y1="321.00" x2="62.20" y2="315.80" stroke="#111" stroke-width="0.8" />
<rect x="57.00" y="305.10" width="5.20" height="5.20" fill="#fff" stroke="#111" stroke-width="1" />
<line x1="57.00" y1="305.10" x2="62.20" y2="310.30" stroke="#111" stroke-width="0.8" />
<line x1="57.00" y1="310.30" x2="62.20" y2="305.10" stroke="#111" stroke-width="0.8" />
<rect x="57.10" y="300.90" width="5.20" height="5.20" fill="#fff" stroke="#111" stroke-width="1" />
<line x1="57.10" y1="300.90" x2="62.30" y2="306.10" stroke="#111" stroke-width="0.8" />
<line x1="57.10" y1="306.10" x2="62.30" y2="300.90" stroke="#111" stroke-width="0.8" />
<rect x="57.20" y="296.90" width="5.20" height="5.20" fill="#fff" stroke="#111" stroke-width="1" />
<line x1="57.20" y1="296.90" x2="62.40" y2="302.10" stroke="#111" stroke-width="0.8" />
<line x1="57.20" y1="302.10" x2="62.40" y2="296.90" stroke="#111" stroke-width="0.8" />
<rect x="57.30" y="292.90" width="5.20" height="5.20" fill="#fff" stroke="#111" stroke-width="1" />
<line x1="57.30" y1="292.90" x2="62.50" y2="298.10" stroke="#111" stroke-width="0.8" />
<line x1="57.30" y1="298.10" x2="62.50" y2="292.90" stroke="#111" stroke-width="0.8" />
<rect x="57.40" y="288.90" width="5.20" height="5.20" fill="#fff" stroke="#111" stroke-width="1" />
<line x1="57.40" y1="288.90" x2="62.60" y2="294.10" stroke="#111" stroke-width="0.8" />
<line x1="57.40" y1="294.10" x2="62.60" y2="288.90" stroke="#111" stroke-width="0.8" />
<rect x="57.50" y="285.40" width="5.20" height="5.20" fill="#fff" stroke="#111" stroke-width="1" />
<line x1="57.50" y1="285.40" x2="62.70" y2="290.60" stroke="#111" stroke-width="0.8" />
<line x1="57.50" y1="290.60" x2="62.70" y2="285.40" stroke="#111" stroke-width="0.8" />
<rect x="57.60" y="281.90" width="5.20" height="5.20" fill="#fff" stroke="#111" stroke-width="1" />
<line x1="57.60" y1="281.90" x2="62.80" y2="287.10" stroke="#111" stroke-width="0.8" />
<line x1="57.60" y1="287.10" x2="62.80" y2="281.90" stroke="#111" stroke-width="0.8" />
<path d="M65,322.2 L74.5,328.5" stroke="#111" fill="none" stroke-width="0.9" />
<path d="M63.0,320.8 L68.6,321.4 L66.1,325.1 z" stroke="none" fill="#111" stroke-width="1" />
<text x="75.40" y="332.00" font-size="8.9" text-anchor="start" fill="#000" font-weight="normal" font-family='"Liberation Sans", sans-serif'  stroke="#000" stroke-width="0.06">Cell without membrane</text>
<line x1="112.00" y1="341.60" x2="134.00" y2="341.60" stroke="#ee3b30" stroke-width="1" />
<circle cx="123.10" cy="341.60" r="3.40" fill="#ee3b30" stroke="none" stroke-width="1" />
<text x="137.00" y="344.70" font-size="8.9" text-anchor="start" fill="#000" font-weight="normal" font-family='"Liberation Sans", sans-serif'  stroke="#000" stroke-width="0.06">M-QCTF</text>
<line x1="112.00" y1="352.80" x2="134.00" y2="352.80" stroke="#8fa89c" stroke-width="1" />
<path d="M123.10,348.60 L127.30,352.80 L123.10,357.00 L118.90,352.80 Z" stroke="none" fill="#8fa89c" stroke-width="1" />
<text x="137.00" y="355.90" font-size="8.9" text-anchor="start" fill="#000" font-weight="normal" font-family='"Liberation Sans", sans-serif'  stroke="#000" stroke-width="0.06">Selemion<tspan dy="-3" font-size="5.5">®</tspan><tspan dy="3"> DSV</tspan></text>
<line x1="112.00" y1="363.30" x2="134.00" y2="363.30" stroke="#d0d0d0" stroke-width="1" />
<path d="M119.30,360.60 L126.90,360.60 L123.10,367.00 Z" stroke="none" fill="#d0d0d0" stroke-width="1" />
<text x="137.00" y="366.40" font-size="8.9" text-anchor="start" fill="#000" font-weight="normal" font-family='"Liberation Sans", sans-serif'  stroke="#000" stroke-width="0.06">Selemion<tspan dy="-3" font-size="5.5">®</tspan><tspan dy="3"> AMV</tspan></text>
<text x="235.90" y="240.90" font-size="10" text-anchor="start" fill="#000" font-weight="bold" font-family='"Liberation Sans", sans-serif'  stroke="#000" stroke-width="0.06">c</text>
<line x1="271.50" y1="371.60" x2="274.50" y2="371.60" stroke="#555" stroke-width="1" />
<text x="270.40" y="374.20" font-size="8.9" text-anchor="end" fill="#000" font-weight="normal" font-family='"Liberation Sans", sans-serif'  stroke="#000" stroke-width="0.06">100</text>
<line x1="271.50" y1="326.50" x2="274.50" y2="326.50" stroke="#555" stroke-width="1" />
<text x="270.40" y="329.10" font-size="8.9" text-anchor="end" fill="#000" font-weight="normal" font-family='"Liberation Sans", sans-serif'  stroke="#000" stroke-width="0.06">150</text>
<line x1="271.50" y1="281.40" x2="274.50" y2="281.40" stroke="#555" stroke-width="1" />
<text x="270.40" y="284.00" font-size="8.9" text-anchor="end" fill="#000" font-weight="normal" font-family='"Liberation Sans", sans-serif'  stroke="#000" stroke-width="0.06">200</text>
<line x1="271.50" y1="236.30" x2="274.50" y2="236.30" stroke="#555" stroke-width="1" />
<text x="270.40" y="238.90" font-size="8.9" text-anchor="end" fill="#000" font-weight="normal" font-family='"Liberation Sans", sans-serif'  stroke="#000" stroke-width="0.06">250</text>
<line x1="272.70" y1="349.05" x2="274.50" y2="349.05" stroke="#555" stroke-width="1" />
<line x1="272.70" y1="303.95" x2="274.50" y2="303.95" stroke="#555" stroke-width="1" />
<line x1="272.70" y1="258.85" x2="274.50" y2="258.85" stroke="#555" stroke-width="1" />
<line x1="443.60" y1="371.60" x2="446.60" y2="371.60" stroke="#555" stroke-width="1" />
<text x="447.80" y="374.60" font-size="8.9" text-anchor="start" fill="#000" font-weight="normal" font-family='"Liberation Sans", sans-serif'  stroke="#000" stroke-width="0.06">20</text>
<line x1="443.60" y1="339.10" x2="446.60" y2="339.10" stroke="#555" stroke-width="1" />
<text x="447.80" y="342.10" font-size="8.9" text-anchor="start" fill="#000" font-weight="normal" font-family='"Liberation Sans", sans-serif'  stroke="#000" stroke-width="0.06">40</text>
<line x1="443.60" y1="306.60" x2="446.60" y2="306.60" stroke="#555" stroke-width="1" />
<text x="447.80" y="309.60" font-size="8.9" text-anchor="start" fill="#000" font-weight="normal" font-family='"Liberation Sans", sans-serif'  stroke="#000" stroke-width="0.06">60</text>
<line x1="443.60" y1="274.10" x2="446.60" y2="274.10" stroke="#555" stroke-width="1" />
<text x="447.80" y="277.10" font-size="8.9" text-anchor="start" fill="#000" font-weight="normal" font-family='"Liberation Sans", sans-serif'  stroke="#000" stroke-width="0.06">80</text>
<line x1="443.60" y1="241.60" x2="446.60" y2="241.60" stroke="#555" stroke-width="1" />
<text x="447.80" y="244.60" font-size="8.9" text-anchor="start" fill="#000" font-weight="normal" font-family='"Liberation Sans", sans-serif'  stroke="#000" stroke-width="0.06">100</text>
<line x1="443.60" y1="355.35" x2="445.40" y2="355.35" stroke="#555" stroke-width="1" />
<line x1="443.60" y1="322.85" x2="445.40" y2="322.85" stroke="#555" stroke-width="1" />
<line x1="443.60" y1="290.35" x2="445.40" y2="290.35" stroke="#555" stroke-width="1" />
<line x1="443.60" y1="257.85" x2="445.40" y2="257.85" stroke="#555" stroke-width="1" />
<line x1="274.50" y1="371.60" x2="274.50" y2="374.60" stroke="#555" stroke-width="1" />
<text x="274.50" y="383.20" font-size="8.9" text-anchor="middle" fill="#000" font-weight="normal" font-family='"Liberation Sans", sans-serif'  stroke="#000" stroke-width="0.06">0</text>
<line x1="307.02" y1="371.60" x2="307.02" y2="374.60" stroke="#555" stroke-width="1" />
<text x="307.02" y="383.20" font-size="8.9" text-anchor="middle" fill="#000" font-weight="normal" font-family='"Liberation Sans", sans-serif'  stroke="#000" stroke-width="0.06">5</text>
<line x1="339.54" y1="371.60" x2="339.54" y2="374.60" stroke="#555" stroke-width="1" />
<text x="339.54" y="383.20" font-size="8.9" text-anchor="middle" fill="#000" font-weight="normal" font-family='"Liberation Sans", sans-serif'  stroke="#000" stroke-width="0.06">10</text>
<line x1="372.06" y1="371.60" x2="372.06" y2="374.60" stroke="#555" stroke-width="1" />
<text x="372.06" y="383.20" font-size="8.9" text-anchor="middle" fill="#000" font-weight="normal" font-family='"Liberation Sans", sans-serif'  stroke="#000" stroke-width="0.06">15</text>
<line x1="404.58" y1="371.60" x2="404.58" y2="374.60" stroke="#555" stroke-width="1" />
<text x="404.58" y="383.20" font-size="8.9" text-anchor="middle" fill="#000" font-weight="normal" font-family='"Liberation Sans", sans-serif'  stroke="#000" stroke-width="0.06">20</text>
<line x1="437.10" y1="371.60" x2="437.10" y2="374.60" stroke="#555" stroke-width="1" />
<text x="437.10" y="383.20" font-size="8.9" text-anchor="middle" fill="#000" font-weight="normal" font-family='"Liberation Sans", sans-serif'  stroke="#000" stroke-width="0.06">25</text>
<line x1="290.76" y1="371.60" x2="290.76" y2="373.40" stroke="#555" stroke-width="1" />
<line x1="323.28" y1="371.60" x2="323.28" y2="373.40" stroke="#555" stroke-width="1" />
<line x1="355.80" y1="371.60" x2="355.80" y2="373.40" stroke="#555" stroke-width="1" />
<line x1="388.32" y1="371.60" x2="388.32" y2="373.40" stroke="#555" stroke-width="1" />
<line x1="420.84" y1="371.60" x2="420.84" y2="373.40" stroke="#555" stroke-width="1" />
<rect x="274.50" y="236.30" width="169.10" height="135.30" fill="none" stroke="#7a7a7a" stroke-width="1.25" />
<text x="358.50" y="392.00" font-size="8.9" text-anchor="middle" fill="#000" font-weight="normal" font-family='"Liberation Sans", sans-serif'  stroke="#000" stroke-width="0.06">Cycle number</text>
<text x="0.00" y="0.00" font-size="8.5" text-anchor="middle" fill="#000" font-weight="normal" font-family='"Liberation Sans", sans-serif' transform="translate(250.7,304.8) rotate(-90)" stroke="#000" stroke-width="0.06">Capacity (C)</text>
<text x="0.00" y="0.00" font-size="8.9" text-anchor="middle" fill="#000" font-weight="normal" font-family='"Liberation Sans", sans-serif' transform="translate(470.5,305) rotate(-90)" stroke="#000" stroke-width="0.06">Efficiency (%)</text>
<path d="M281.00,238.00 L284.60,241.60 L281.00,245.20 L277.40,241.60 Z" stroke="none" fill="#ee3b30" stroke-width="1" />
<path d="M287.51,238.00 L291.11,241.60 L287.51,245.20 L283.91,241.60 Z" stroke="none" fill="#ee3b30" stroke-width="1" />
<path d="M294.01,238.00 L297.61,241.60 L294.01,245.20 L290.41,241.60 Z" stroke="none" fill="#ee3b30" stroke-width="1" />
<path d="M300.52,238.00 L304.12,241.60 L300.52,245.20 L296.92,241.60 Z" stroke="none" fill="#ee3b30" stroke-width="1" />
<path d="M307.02,238.00 L310.62,241.60 L307.02,245.20 L303.42,241.60 Z" stroke="none" fill="#ee3b30" stroke-width="1" />
<path d="M313.52,238.00 L317.12,241.60 L313.52,245.20 L309.92,241.60 Z" stroke="none" fill="#ee3b30" stroke-width="1" />
<path d="M320.03,238.00 L323.63,241.60 L320.03,245.20 L316.43,241.60 Z" stroke="none" fill="#ee3b30" stroke-width="1" />
<path d="M326.53,238.00 L330.13,241.60 L326.53,245.20 L322.93,241.60 Z" stroke="none" fill="#ee3b30" stroke-width="1" />
<path d="M333.03,238.00 L336.63,241.60 L333.03,245.20 L329.43,241.60 Z" stroke="none" fill="#ee3b30" stroke-width="1" />
<path d="M339.54,238.00 L343.14,241.60 L339.54,245.20 L335.94,241.60 Z" stroke="none" fill="#ee3b30" stroke-width="1" />
<path d="M346.04,238.00 L349.64,241.60 L346.04,245.20 L342.44,241.60 Z" stroke="none" fill="#ee3b30" stroke-width="1" />
<path d="M352.55,238.00 L356.15,241.60 L352.55,245.20 L348.95,241.60 Z" stroke="none" fill="#ee3b30" stroke-width="1" />
<path d="M359.05,238.00 L362.65,241.60 L359.05,245.20 L355.45,241.60 Z" stroke="none" fill="#ee3b30" stroke-width="1" />
<path d="M365.55,238.00 L369.15,241.60 L365.55,245.20 L361.95,241.60 Z" stroke="none" fill="#ee3b30" stroke-width="1" />
<path d="M372.06,238.00 L375.66,241.60 L372.06,245.20 L368.46,241.60 Z" stroke="none" fill="#ee3b30" stroke-width="1" />
<path d="M378.56,238.00 L382.16,241.60 L378.56,245.20 L374.96,241.60 Z" stroke="none" fill="#ee3b30" stroke-width="1" />
<path d="M385.07,238.00 L388.67,241.60 L385.07,245.20 L381.47,241.60 Z" stroke="none" fill="#ee3b30" stroke-width="1" />
<path d="M391.57,238.00 L395.17,241.60 L391.57,245.20 L387.97,241.60 Z" stroke="none" fill="#ee3b30" stroke-width="1" />
<path d="M398.07,238.00 L401.67,241.60 L398.07,245.20 L394.47,241.60 Z" stroke="none" fill="#ee3b30" stroke-width="1" />
<path d="M404.58,238.00 L408.18,241.60 L404.58,245.20 L400.98,241.60 Z" stroke="none" fill="#ee3b30" stroke-width="1" />
<path d="M411.08,238.00 L414.68,241.60 L411.08,245.20 L407.48,241.60 Z" stroke="none" fill="#ee3b30" stroke-width="1" />
<path d="M417.58,238.00 L421.18,241.60 L417.58,245.20 L413.98,241.60 Z" stroke="none" fill="#ee3b30" stroke-width="1" />
<path d="M424.09,238.00 L427.69,241.60 L424.09,245.20 L420.49,241.60 Z" stroke="none" fill="#ee3b30" stroke-width="1" />
<path d="M430.59,238.00 L434.19,241.60 L430.59,245.20 L426.99,241.60 Z" stroke="none" fill="#ee3b30" stroke-width="1" />
<path d="M437.10,238.00 L440.70,241.60 L437.10,245.20 L433.50,241.60 Z" stroke="none" fill="#ee3b30" stroke-width="1" />
<path d="M284.03,250.65 L281.00,252.40 L277.97,250.65 L277.97,247.15 L281.00,245.40 L284.03,247.15 Z" stroke="none" fill="#454545" stroke-width="1" />
<path d="M277.70,263.30 L284.30,263.30 L281.00,268.90 Z" stroke="none" fill="#6a72ec" stroke-width="1" />
<path d="M290.54,250.65 L287.51,252.40 L284.48,250.65 L284.48,247.15 L287.51,245.40 L290.54,247.15 Z" stroke="none" fill="#454545" stroke-width="1" />
<path d="M284.21,263.30 L290.81,263.30 L287.51,268.90 Z" stroke="none" fill="#6a72ec" stroke-width="1" />
<path d="M297.04,250.65 L294.01,252.40 L290.98,250.65 L290.98,247.15 L294.01,245.40 L297.04,247.15 Z" stroke="none" fill="#454545" stroke-width="1" />
<path d="M290.71,263.30 L297.31,263.30 L294.01,268.90 Z" stroke="none" fill="#6a72ec" stroke-width="1" />
<path d="M303.55,250.65 L300.52,252.40 L297.48,250.65 L297.48,247.15 L300.52,245.40 L303.55,247.15 Z" stroke="none" fill="#454545" stroke-width="1" />
<path d="M297.22,263.30 L303.82,263.30 L300.52,268.90 Z" stroke="none" fill="#6a72ec" stroke-width="1" />
<path d="M310.05,250.65 L307.02,252.40 L303.99,250.65 L303.99,247.15 L307.02,245.40 L310.05,247.15 Z" stroke="none" fill="#454545" stroke-width="1" />
<path d="M303.72,263.30 L310.32,263.30 L307.02,268.90 Z" stroke="none" fill="#6a72ec" stroke-width="1" />
<path d="M316.55,258.55 L313.52,260.30 L310.49,258.55 L310.49,255.05 L313.52,253.30 L316.55,255.05 Z" stroke="none" fill="#454545" stroke-width="1" />
<path d="M310.22,277.30 L316.82,277.30 L313.52,282.90 Z" stroke="none" fill="#6a72ec" stroke-width="1" />
<path d="M323.06,258.55 L320.03,260.30 L317.00,258.55 L317.00,255.05 L320.03,253.30 L323.06,255.05 Z" stroke="none" fill="#454545" stroke-width="1" />
<path d="M316.73,277.30 L323.33,277.30 L320.03,282.90 Z" stroke="none" fill="#6a72ec" stroke-width="1" />
<path d="M329.56,258.55 L326.53,260.30 L323.50,258.55 L323.50,255.05 L326.53,253.30 L329.56,255.05 Z" stroke="none" fill="#454545" stroke-width="1" />
<path d="M323.23,277.30 L329.83,277.30 L326.53,282.90 Z" stroke="none" fill="#6a72ec" stroke-width="1" />
<path d="M336.07,258.55 L333.03,260.30 L330.00,258.55 L330.00,255.05 L333.03,253.30 L336.07,255.05 Z" stroke="none" fill="#454545" stroke-width="1" />
<path d="M329.73,277.30 L336.33,277.30 L333.03,282.90 Z" stroke="none" fill="#6a72ec" stroke-width="1" />
<path d="M342.57,258.55 L339.54,260.30 L336.51,258.55 L336.51,255.05 L339.54,253.30 L342.57,255.05 Z" stroke="none" fill="#454545" stroke-width="1" />
<path d="M336.24,277.30 L342.84,277.30 L339.54,282.90 Z" stroke="none" fill="#6a72ec" stroke-width="1" />
<path d="M349.07,268.35 L346.04,270.10 L343.01,268.35 L343.01,264.85 L346.04,263.10 L349.07,264.85 Z" stroke="none" fill="#454545" stroke-width="1" />
<path d="M342.74,289.80 L349.34,289.80 L346.04,295.40 Z" stroke="none" fill="#6a72ec" stroke-width="1" />
<path d="M355.58,268.35 L352.55,270.10 L349.52,268.35 L349.52,264.85 L352.55,263.10 L355.58,264.85 Z" stroke="none" fill="#454545" stroke-width="1" />
<path d="M349.25,289.80 L355.85,289.80 L352.55,295.40 Z" stroke="none" fill="#6a72ec" stroke-width="1" />
<path d="M362.08,268.35 L359.05,270.10 L356.02,268.35 L356.02,264.85 L359.05,263.10 L362.08,264.85 Z" stroke="none" fill="#454545" stroke-width="1" />
<path d="M355.75,289.80 L362.35,289.80 L359.05,295.40 Z" stroke="none" fill="#6a72ec" stroke-width="1" />
<path d="M368.58,268.35 L365.55,270.10 L362.52,268.35 L362.52,264.85 L365.55,263.10 L368.58,264.85 Z" stroke="none" fill="#454545" stroke-width="1" />
<path d="M362.25,289.80 L368.85,289.80 L365.55,295.40 Z" stroke="none" fill="#6a72ec" stroke-width="1" />
<path d="M375.09,268.35 L372.06,270.10 L369.03,268.35 L369.03,264.85 L372.06,263.10 L375.09,264.85 Z" stroke="none" fill="#454545" stroke-width="1" />
<path d="M368.76,289.80 L375.36,289.80 L372.06,295.40 Z" stroke="none" fill="#6a72ec" stroke-width="1" />
<path d="M381.59,290.35 L378.56,292.10 L375.53,290.35 L375.53,286.85 L378.56,285.10 L381.59,286.85 Z" stroke="none" fill="#454545" stroke-width="1" />
<path d="M375.26,306.50 L381.86,306.50 L378.56,312.10 Z" stroke="none" fill="#6a72ec" stroke-width="1" />
<path d="M388.10,290.35 L385.07,292.10 L382.03,290.35 L382.03,286.85 L385.07,285.10 L388.10,286.85 Z" stroke="none" fill="#454545" stroke-width="1" />
<path d="M381.77,306.50 L388.37,306.50 L385.07,312.10 Z" stroke="none" fill="#6a72ec" stroke-width="1" />
<path d="M394.60,290.35 L391.57,292.10 L388.54,290.35 L388.54,286.85 L391.57,285.10 L394.60,286.85 Z" stroke="none" fill="#454545" stroke-width="1" />
<path d="M388.27,306.50 L394.87,306.50 L391.57,312.10 Z" stroke="none" fill="#6a72ec" stroke-width="1" />
<path d="M401.10,290.35 L398.07,292.10 L395.04,290.35 L395.04,286.85 L398.07,285.10 L401.10,286.85 Z" stroke="none" fill="#454545" stroke-width="1" />
<path d="M394.77,306.50 L401.37,306.50 L398.07,312.10 Z" stroke="none" fill="#6a72ec" stroke-width="1" />
<path d="M407.61,290.35 L404.58,292.10 L401.55,290.35 L401.55,286.85 L404.58,285.10 L407.61,286.85 Z" stroke="none" fill="#454545" stroke-width="1" />
<path d="M401.28,306.50 L407.88,306.50 L404.58,312.10 Z" stroke="none" fill="#6a72ec" stroke-width="1" />
<path d="M414.11,336.75 L411.08,338.50 L408.05,336.75 L408.05,333.25 L411.08,331.50 L414.11,333.25 Z" stroke="none" fill="#454545" stroke-width="1" />
<path d="M407.78,321.50 L414.38,321.50 L411.08,327.10 Z" stroke="none" fill="#6a72ec" stroke-width="1" />
<path d="M420.62,335.75 L417.58,337.50 L414.55,335.75 L414.55,332.25 L417.58,330.50 L420.62,332.25 Z" stroke="none" fill="#454545" stroke-width="1" />
<path d="M414.28,321.50 L420.88,321.50 L417.58,327.10 Z" stroke="none" fill="#6a72ec" stroke-width="1" />
<path d="M427.12,335.15 L424.09,336.90 L421.06,335.15 L421.06,331.65 L424.09,329.90 L427.12,331.65 Z" stroke="none" fill="#454545" stroke-width="1" />
<path d="M420.79,321.50 L427.39,321.50 L424.09,327.10 Z" stroke="none" fill="#6a72ec" stroke-width="1" />
<path d="M433.62,334.35 L430.59,336.10 L427.56,334.35 L427.56,330.85 L430.59,329.10 L433.62,330.85 Z" stroke="none" fill="#454545" stroke-width="1" />
<path d="M427.29,321.50 L433.89,321.50 L430.59,327.10 Z" stroke="none" fill="#6a72ec" stroke-width="1" />
<path d="M440.13,335.45 L437.10,337.20 L434.07,335.45 L434.07,331.95 L437.10,330.20 L440.13,331.95 Z" stroke="none" fill="#454545" stroke-width="1" />
<path d="M433.80,321.50 L440.40,321.50 L437.10,327.10 Z" stroke="none" fill="#6a72ec" stroke-width="1" />
<text x="276.40" y="276.40" font-size="6.2" text-anchor="start" fill="#000" font-weight="normal" font-family='"Liberation Sans", sans-serif'  stroke="#000" stroke-width="0.06">100 mA cm<tspan dy="-2.5" font-size="4.5">-2</tspan></text>
<line x1="277.20" y1="279.00" x2="305.70" y2="279.00" stroke="#888" stroke-width="1" />
<text x="308.50" y="291.60" font-size="6.2" text-anchor="start" fill="#000" font-weight="normal" font-family='"Liberation Sans", sans-serif'  stroke="#000" stroke-width="0.06">200 mA cm<tspan dy="-2.5" font-size="4.5">-2</tspan></text>
<line x1="310.10" y1="293.40" x2="338.30" y2="293.40" stroke="#888" stroke-width="1" />
<text x="339.90" y="302.50" font-size="6.2" text-anchor="start" fill="#000" font-weight="normal" font-family='"Liberation Sans", sans-serif'  stroke="#000" stroke-width="0.06">300 mA cm<tspan dy="-2.5" font-size="4.5">-2</tspan></text>
<line x1="342.60" y1="304.70" x2="370.40" y2="304.70" stroke="#888" stroke-width="1" />
<text x="374.20" y="319.70" font-size="6.2" text-anchor="start" fill="#000" font-weight="normal" font-family='"Liberation Sans", sans-serif'  stroke="#000" stroke-width="0.06">400 mA cm<tspan dy="-2.5" font-size="4.5">-2</tspan></text>
<line x1="376.40" y1="322.40" x2="405.00" y2="322.40" stroke="#888" stroke-width="1" />
<text x="408.10" y="346.50" font-size="6.2" text-anchor="start" fill="#000" font-weight="normal" font-family='"Liberation Sans", sans-serif'  stroke="#000" stroke-width="0.06">500 mA cm<tspan dy="-2.5" font-size="4.5">-2</tspan></text>
<line x1="410.30" y1="349.50" x2="439.00" y2="349.50" stroke="#888" stroke-width="1" />
<path d="M290,252.8 L290,257.9 L279,257.9" stroke="#555" fill="none" stroke-width="0.9" />
<path d="M277,257.9 L282,255.4 L282,260.4 z" stroke="none" fill="#555" stroke-width="1" />
<path d="M428.1,249.7 L428.1,253.9 L438,253.9" stroke="#ee3b30" fill="none" stroke-width="0.9" />
<path d="M442,253.9 L437,251.4 L437,256.4 z" stroke="none" fill="#ee3b30" stroke-width="1" />
<path d="M428.1,319.2 L428.1,315.1 L438,315.1" stroke="#6a72ec" fill="none" stroke-width="0.9" />
<path d="M442,315.1 L437,312.6 L437,317.6 z" stroke="none" fill="#6a72ec" stroke-width="1" />
<path d="M288.00,346.00 L291.60,349.60 L288.00,353.20 L284.40,349.60 Z" stroke="none" fill="#ee3b30" stroke-width="1" />
<text x="297.30" y="352.60" font-size="8.9" text-anchor="start" fill="#000" font-weight="normal" font-family='"Liberation Sans", sans-serif'  stroke="#000" stroke-width="0.06">CE</text>
<path d="M284.50,357.70 L291.50,357.70 L288.00,363.50 Z" stroke="none" fill="#6a72ec" stroke-width="1" />
<text x="297.30" y="363.30" font-size="8.9" text-anchor="start" fill="#000" font-weight="normal" font-family='"Liberation Sans", sans-serif'  stroke="#000" stroke-width="0.06">EE</text>
<text x="0.00" y="421.30" font-size="10" text-anchor="start" fill="#000" font-weight="bold" font-family='"Liberation Sans", sans-serif'  stroke="#000" stroke-width="0.06">d</text>
<line x1="35.40" y1="552.40" x2="38.40" y2="552.40" stroke="#555" stroke-width="1" />
<text x="33.50" y="555.00" font-size="8.9" text-anchor="end" fill="#000" font-weight="normal" font-family='"Liberation Sans", sans-serif'  stroke="#000" stroke-width="0.06">100</text>
<line x1="35.40" y1="507.07" x2="38.40" y2="507.07" stroke="#555" stroke-width="1" />
<text x="33.50" y="509.67" font-size="8.9" text-anchor="end" fill="#000" font-weight="normal" font-family='"Liberation Sans", sans-serif'  stroke="#000" stroke-width="0.06">150</text>
<line x1="35.40" y1="461.73" x2="38.40" y2="461.73" stroke="#555" stroke-width="1" />
<text x="33.50" y="464.33" font-size="8.9" text-anchor="end" fill="#000" font-weight="normal" font-family='"Liberation Sans", sans-serif'  stroke="#000" stroke-width="0.06">200</text>
<line x1="35.40" y1="416.40" x2="38.40" y2="416.40" stroke="#555" stroke-width="1" />
<text x="33.50" y="419.00" font-size="8.9" text-anchor="end" fill="#000" font-weight="normal" font-family='"Liberation Sans", sans-serif'  stroke="#000" stroke-width="0.06">250</text>
<line x1="36.60" y1="529.73" x2="38.40" y2="529.73" stroke="#555" stroke-width="1" />
<line x1="36.60" y1="484.40" x2="38.40" y2="484.40" stroke="#555" stroke-width="1" />
<line x1="36.60" y1="439.07" x2="38.40" y2="439.07" stroke="#555" stroke-width="1" />
<line x1="444.80" y1="552.40" x2="447.80" y2="552.40" stroke="#555" stroke-width="1" />
<text x="449.30" y="555.40" font-size="8.9" text-anchor="start" fill="#000" font-weight="normal" font-family='"Liberation Sans", sans-serif'  stroke="#000" stroke-width="0.06">40</text>
<line x1="444.80" y1="508.53" x2="447.80" y2="508.53" stroke="#555" stroke-width="1" />
<text x="449.30" y="511.53" font-size="8.9" text-anchor="start" fill="#000" font-weight="normal" font-family='"Liberation Sans", sans-serif'  stroke="#000" stroke-width="0.06">60</text>
<line x1="444.80" y1="464.66" x2="447.80" y2="464.66" stroke="#555" stroke-width="1" />
<text x="449.30" y="467.66" font-size="8.9" text-anchor="start" fill="#000" font-weight="normal" font-family='"Liberation Sans", sans-serif'  stroke="#000" stroke-width="0.06">80</text>
<line x1="444.80" y1="420.79" x2="447.80" y2="420.79" stroke="#555" stroke-width="1" />
<text x="449.30" y="423.79" font-size="8.9" text-anchor="start" fill="#000" font-weight="normal" font-family='"Liberation Sans", sans-serif'  stroke="#000" stroke-width="0.06">100</text>
<line x1="444.80" y1="530.46" x2="446.60" y2="530.46" stroke="#555" stroke-width="1" />
<line x1="444.80" y1="486.59" x2="446.60" y2="486.59" stroke="#555" stroke-width="1" />
<line x1="444.80" y1="442.72" x2="446.60" y2="442.72" stroke="#555" stroke-width="1" />
<line x1="38.40" y1="552.40" x2="38.40" y2="555.40" stroke="#555" stroke-width="1" />
<text x="38.40" y="564.60" font-size="8.9" text-anchor="middle" fill="#000" font-weight="normal" font-family='"Liberation Sans", sans-serif'  stroke="#000" stroke-width="0.06">0</text>
<line x1="119.68" y1="552.40" x2="119.68" y2="555.40" stroke="#555" stroke-width="1" />
<text x="119.68" y="564.60" font-size="8.9" text-anchor="middle" fill="#000" font-weight="normal" font-family='"Liberation Sans", sans-serif'  stroke="#000" stroke-width="0.06">200</text>
<line x1="200.96" y1="552.40" x2="200.96" y2="555.40" stroke="#555" stroke-width="1" />
<text x="200.96" y="564.60" font-size="8.9" text-anchor="middle" fill="#000" font-weight="normal" font-family='"Liberation Sans", sans-serif'  stroke="#000" stroke-width="0.06">400</text>
<line x1="282.24" y1="552.40" x2="282.24" y2="555.40" stroke="#555" stroke-width="1" />
<text x="282.24" y="564.60" font-size="8.9" text-anchor="middle" fill="#000" font-weight="normal" font-family='"Liberation Sans", sans-serif'  stroke="#000" stroke-width="0.06">600</text>
<line x1="363.52" y1="552.40" x2="363.52" y2="555.40" stroke="#555" stroke-width="1" />
<text x="363.52" y="564.60" font-size="8.9" text-anchor="middle" fill="#000" font-weight="normal" font-family='"Liberation Sans", sans-serif'  stroke="#000" stroke-width="0.06">800</text>
<line x1="444.80" y1="552.40" x2="444.80" y2="555.40" stroke="#555" stroke-width="1" />
<text x="444.80" y="564.60" font-size="8.9" text-anchor="middle" fill="#000" font-weight="normal" font-family='"Liberation Sans", sans-serif'  stroke="#000" stroke-width="0.06">1000</text>
<line x1="79.04" y1="552.40" x2="79.04" y2="554.20" stroke="#555" stroke-width="1" />
<line x1="160.32" y1="552.40" x2="160.32" y2="554.20" stroke="#555" stroke-width="1" />
<line x1="241.60" y1="552.40" x2="241.60" y2="554.20" stroke="#555" stroke-width="1" />
<line x1="322.88" y1="552.40" x2="322.88" y2="554.20" stroke="#555" stroke-width="1" />
<line x1="404.16" y1="552.40" x2="404.16" y2="554.20" stroke="#555" stroke-width="1" />
<rect x="38.40" y="416.40" width="406.40" height="136.00" fill="none" stroke="#7a7a7a" stroke-width="1.25" />
<text x="241.00" y="574.50" font-size="8.9" text-anchor="middle" fill="#000" font-weight="normal" font-family='"Liberation Sans", sans-serif'  stroke="#000" stroke-width="0.06">Cycle number</text>
<text x="0.00" y="0.00" font-size="8.9" text-anchor="middle" fill="#000" font-weight="normal" font-family='"Liberation Sans", sans-serif' transform="translate(13,484) rotate(-90)" stroke="#000" stroke-width="0.06">Capacity (C)</text>
<text x="0.00" y="0.00" font-size="8.9" text-anchor="middle" fill="#000" font-weight="normal" font-family='"Liberation Sans", sans-serif' transform="translate(472,484) rotate(-90)" stroke="#000" stroke-width="0.06">Efficiency (%)</text>
<clipPath id="clipD"><rect x="38.4" y="414" width="406.4" height="140"/></clipPath>
<path d="M38.81,417.30 L43.01,421.10 L38.81,424.90 L34.61,421.10 ZM44.01,417.30 L48.21,421.10 L44.01,424.90 L39.81,421.10 ZM49.22,417.30 L53.42,421.10 L49.22,424.90 L45.02,421.10 ZM54.42,417.30 L58.62,421.10 L54.42,424.90 L50.22,421.10 ZM59.63,417.30 L63.83,421.10 L59.63,424.90 L55.43,421.10 ZM64.83,417.30 L69.03,421.10 L64.83,424.90 L60.63,421.10 ZM70.04,417.30 L74.24,421.10 L70.04,424.90 L65.84,421.10 ZM75.24,417.30 L79.44,421.10 L75.24,424.90 L71.04,421.10 ZM80.45,417.30 L84.65,421.10 L80.45,424.90 L76.25,421.10 ZM85.65,417.30 L89.85,421.10 L85.65,424.90 L81.45,421.10 ZM90.86,417.30 L95.06,421.10 L90.86,424.90 L86.66,421.10 ZM96.06,417.30 L100.26,421.10 L96.06,424.90 L91.86,421.10 ZM101.27,417.30 L105.47,421.10 L101.27,424.90 L97.07,421.10 ZM106.47,417.30 L110.67,421.10 L106.47,424.90 L102.27,421.10 ZM111.68,417.30 L115.88,421.10 L111.68,424.90 L107.48,421.10 ZM116.88,417.30 L121.08,421.10 L116.88,424.90 L112.68,421.10 ZM122.09,417.30 L126.29,421.10 L122.09,424.90 L117.89,421.10 ZM127.29,417.30 L131.49,421.10 L127.29,424.90 L123.09,421.10 ZM132.50,417.30 L136.70,421.10 L132.50,424.90 L128.30,421.10 ZM137.70,417.30 L141.90,421.10 L137.70,424.90 L133.50,421.10 ZM142.91,417.30 L147.11,421.10 L142.91,424.90 L138.71,421.10 ZM148.11,417.30 L152.31,421.10 L148.11,424.90 L143.91,421.10 ZM153.32,417.30 L157.52,421.10 L153.32,424.90 L149.12,421.10 ZM158.52,417.30 L162.72,421.10 L158.52,424.90 L154.32,421.10 ZM163.73,417.30 L167.93,421.10 L163.73,424.90 L159.53,421.10 ZM168.93,417.30 L173.13,421.10 L168.93,424.90 L164.73,421.10 ZM174.14,417.30 L178.34,421.10 L174.14,424.90 L169.94,421.10 ZM179.34,417.30 L183.54,421.10 L179.34,424.90 L175.14,421.10 ZM184.55,417.30 L188.75,421.10 L184.55,424.90 L180.35,421.10 ZM189.75,417.30 L193.95,421.10 L189.75,424.90 L185.55,421.10 ZM194.96,417.30 L199.16,421.10 L194.96,424.90 L190.76,421.10 ZM200.16,417.30 L204.36,421.10 L200.16,424.90 L195.96,421.10 ZM205.37,417.30 L209.57,421.10 L205.37,424.90 L201.17,421.10 ZM210.57,417.30 L214.77,421.10 L210.57,424.90 L206.37,421.10 ZM215.78,417.30 L219.98,421.10 L215.78,424.90 L211.58,421.10 ZM220.98,417.30 L225.18,421.10 L220.98,424.90 L216.78,421.10 ZM226.19,417.30 L230.39,421.10 L226.19,424.90 L221.99,421.10 ZM231.39,417.30 L235.59,421.10 L231.39,424.90 L227.19,421.10 ZM236.60,417.30 L240.80,421.10 L236.60,424.90 L232.40,421.10 ZM241.80,417.30 L246.00,421.10 L241.80,424.90 L237.60,421.10 ZM247.01,417.30 L251.21,421.10 L247.01,424.90 L242.81,421.10 ZM252.21,417.30 L256.41,421.10 L252.21,424.90 L248.01,421.10 ZM257.42,417.30 L261.62,421.10 L257.42,424.90 L253.22,421.10 ZM262.62,417.30 L266.82,421.10 L262.62,424.90 L258.42,421.10 ZM267.83,417.30 L272.03,421.10 L267.83,424.90 L263.63,421.10 ZM273.03,417.30 L277.23,421.10 L273.03,424.90 L268.83,421.10 ZM278.24,417.30 L282.44,421.10 L278.24,424.90 L274.04,421.10 ZM283.44,417.30 L287.64,421.10 L283.44,424.90 L279.24,421.10 ZM288.65,417.30 L292.85,421.10 L288.65,424.90 L284.45,421.10 ZM293.85,417.30 L298.05,421.10 L293.85,424.90 L289.65,421.10 ZM299.06,417.30 L303.26,421.10 L299.06,424.90 L294.86,421.10 ZM304.26,417.30 L308.46,421.10 L304.26,424.90 L300.06,421.10 ZM309.47,417.30 L313.67,421.10 L309.47,424.90 L305.27,421.10 ZM314.67,417.30 L318.87,421.10 L314.67,424.90 L310.47,421.10 ZM319.88,417.30 L324.08,421.10 L319.88,424.90 L315.68,421.10 ZM325.08,417.30 L329.28,421.10 L325.08,424.90 L320.88,421.10 ZM330.29,417.30 L334.49,421.10 L330.29,424.90 L326.09,421.10 ZM335.49,417.30 L339.69,421.10 L335.49,424.90 L331.29,421.10 ZM340.70,417.30 L344.90,421.10 L340.70,424.90 L336.50,421.10 ZM345.90,417.30 L350.10,421.10 L345.90,424.90 L341.70,421.10 ZM351.11,417.30 L355.31,421.10 L351.11,424.90 L346.91,421.10 ZM356.31,417.30 L360.51,421.10 L356.31,424.90 L352.11,421.10 ZM361.52,417.30 L365.72,421.10 L361.52,424.90 L357.32,421.10 ZM366.72,417.30 L370.92,421.10 L366.72,424.90 L362.52,421.10 ZM371.93,417.30 L376.13,421.10 L371.93,424.90 L367.73,421.10 ZM377.13,417.30 L381.33,421.10 L377.13,424.90 L372.93,421.10 ZM382.34,417.30 L386.54,421.10 L382.34,424.90 L378.14,421.10 ZM387.54,417.30 L391.74,421.10 L387.54,424.90 L383.34,421.10 ZM392.75,417.30 L396.95,421.10 L392.75,424.90 L388.55,421.10 ZM397.95,417.30 L402.15,421.10 L397.95,424.90 L393.75,421.10 ZM403.16,417.30 L407.36,421.10 L403.16,424.90 L398.96,421.10 ZM408.36,417.30 L412.56,421.10 L408.36,424.90 L404.16,421.10 ZM413.57,417.30 L417.77,421.10 L413.57,424.90 L409.37,421.10 ZM418.77,417.30 L422.97,421.10 L418.77,424.90 L414.57,421.10 ZM423.98,417.30 L428.18,421.10 L423.98,424.90 L419.78,421.10 ZM429.18,417.30 L433.38,421.10 L429.18,424.90 L424.98,421.10 ZM434.39,417.30 L438.59,421.10 L434.39,424.90 L430.19,421.10 ZM439.59,417.30 L443.79,421.10 L439.59,424.90 L435.39,421.10 ZM444.80,417.30 L449.00,421.10 L444.80,424.90 L440.60,421.10 Z" stroke="none" fill="#ee3b30" stroke-width="1" clip-path="url(#clipD)"/>
<path d="M41.45,470.52 L38.81,472.05 L36.17,470.52 L36.17,467.48 L38.81,465.95 L41.45,467.48 ZM46.65,470.52 L44.01,472.05 L41.37,470.52 L41.37,467.48 L44.01,465.95 L46.65,467.48 ZM51.86,470.52 L49.22,472.05 L46.58,470.52 L46.58,467.48 L49.22,465.95 L51.86,467.48 ZM57.06,470.52 L54.42,472.05 L51.78,470.52 L51.78,467.48 L54.42,465.95 L57.06,467.48 ZM62.27,470.52 L59.63,472.05 L56.99,470.52 L56.99,467.48 L59.63,465.95 L62.27,467.48 ZM67.47,470.52 L64.83,472.05 L62.19,470.52 L62.19,467.48 L64.83,465.95 L67.47,467.48 ZM72.68,470.52 L70.04,472.05 L67.40,470.52 L67.40,467.48 L70.04,465.95 L72.68,467.48 ZM77.88,470.52 L75.24,472.05 L72.60,470.52 L72.60,467.48 L75.24,465.95 L77.88,467.48 ZM83.09,470.52 L80.45,472.05 L77.81,470.52 L77.81,467.48 L80.45,465.95 L83.09,467.48 ZM88.29,470.52 L85.65,472.05 L83.01,470.52 L83.01,467.48 L85.65,465.95 L88.29,467.48 ZM93.50,470.42 L90.86,471.95 L88.22,470.42 L88.22,467.37 L90.86,465.85 L93.50,467.37 ZM98.70,470.27 L96.06,471.80 L93.42,470.27 L93.42,467.22 L96.06,465.70 L98.70,467.22 ZM103.91,470.12 L101.27,471.65 L98.63,470.12 L98.63,467.07 L101.27,465.55 L103.91,467.07 ZM109.11,469.98 L106.47,471.50 L103.83,469.98 L103.83,466.93 L106.47,465.40 L109.11,466.93 ZM114.32,469.83 L111.68,471.35 L109.04,469.83 L109.04,466.78 L111.68,465.25 L114.32,466.78 ZM119.52,469.68 L116.88,471.21 L114.24,469.68 L114.24,466.63 L116.88,465.11 L119.52,466.63 ZM124.73,469.53 L122.09,471.06 L119.45,469.53 L119.45,466.48 L122.09,464.96 L124.73,466.48 ZM129.93,469.39 L127.29,470.91 L124.65,469.39 L124.65,466.34 L127.29,464.81 L129.93,466.34 ZM135.14,469.24 L132.50,470.76 L129.86,469.24 L129.86,466.19 L132.50,464.66 L135.14,466.19 ZM140.34,469.09 L137.70,470.62 L135.06,469.09 L135.06,466.04 L137.70,464.52 L140.34,466.04 ZM145.55,468.94 L142.91,470.47 L140.27,468.94 L140.27,465.89 L142.91,464.37 L145.55,465.89 ZM150.75,468.79 L148.11,470.32 L145.47,468.79 L145.47,465.74 L148.11,464.22 L150.75,465.74 ZM155.96,468.65 L153.32,470.17 L150.68,468.65 L150.68,465.60 L153.32,464.07 L155.96,465.60 ZM161.16,468.50 L158.52,470.02 L155.88,468.50 L155.88,465.45 L158.52,463.92 L161.16,465.45 ZM166.37,468.35 L163.73,469.88 L161.09,468.35 L161.09,465.30 L163.73,463.78 L166.37,465.30 ZM171.57,468.20 L168.93,469.73 L166.29,468.20 L166.29,465.15 L168.93,463.63 L171.57,465.15 ZM176.78,468.06 L174.14,469.58 L171.50,468.06 L171.50,465.01 L174.14,463.48 L176.78,465.01 ZM181.98,467.91 L179.34,469.43 L176.70,467.91 L176.70,464.86 L179.34,463.33 L181.98,464.86 ZM187.19,467.76 L184.55,469.29 L181.91,467.76 L181.91,464.71 L184.55,463.19 L187.19,464.71 ZM192.39,467.61 L189.75,469.14 L187.11,467.61 L187.11,464.56 L189.75,463.04 L192.39,464.56 ZM197.60,467.52 L194.96,469.05 L192.32,467.52 L192.32,464.48 L194.96,462.95 L197.60,464.48 ZM202.80,467.52 L200.16,469.05 L197.52,467.52 L197.52,464.48 L200.16,462.95 L202.80,464.48 ZM208.01,467.52 L205.37,469.05 L202.73,467.52 L202.73,464.48 L205.37,462.95 L208.01,464.48 ZM213.21,467.52 L210.57,469.05 L207.93,467.52 L207.93,464.48 L210.57,462.95 L213.21,464.48 ZM218.42,467.52 L215.78,469.05 L213.14,467.52 L213.14,464.48 L215.78,462.95 L218.42,464.48 ZM223.62,467.52 L220.98,469.05 L218.34,467.52 L218.34,464.48 L220.98,462.95 L223.62,464.48 ZM228.83,467.52 L226.19,469.05 L223.55,467.52 L223.55,464.48 L226.19,462.95 L228.83,464.48 ZM234.03,467.52 L231.39,469.05 L228.75,467.52 L228.75,464.48 L231.39,462.95 L234.03,464.48 ZM239.24,467.52 L236.60,469.05 L233.96,467.52 L233.96,464.48 L236.60,462.95 L239.24,464.48 ZM244.44,467.52 L241.80,469.05 L239.16,467.52 L239.16,464.48 L241.80,462.95 L244.44,464.48 ZM249.65,467.52 L247.01,469.05 L244.37,467.52 L244.37,464.48 L247.01,462.95 L249.65,464.48 ZM254.85,467.52 L252.21,469.05 L249.57,467.52 L249.57,464.48 L252.21,462.95 L254.85,464.48 ZM260.06,467.52 L257.42,469.05 L254.78,467.52 L254.78,464.48 L257.42,462.95 L260.06,464.48 ZM265.26,467.52 L262.62,469.05 L259.98,467.52 L259.98,464.48 L262.62,462.95 L265.26,464.48 ZM270.47,467.52 L267.83,469.05 L265.19,467.52 L265.19,464.48 L267.83,462.95 L270.47,464.48 ZM275.67,467.52 L273.03,469.05 L270.39,467.52 L270.39,464.48 L273.03,462.95 L275.67,464.48 ZM280.88,467.52 L278.24,469.05 L275.60,467.52 L275.60,464.48 L278.24,462.95 L280.88,464.48 ZM286.08,467.52 L283.44,469.05 L280.80,467.52 L280.80,464.48 L283.44,462.95 L286.08,464.48 ZM291.29,467.52 L288.65,469.05 L286.01,467.52 L286.01,464.48 L288.65,462.95 L291.29,464.48 ZM296.50,467.52 L293.85,469.05 L291.21,467.52 L291.21,464.48 L293.85,462.95 L296.50,464.48 ZM301.70,467.52 L299.06,469.05 L296.42,467.52 L296.42,464.48 L299.06,462.95 L301.70,464.48 ZM306.91,467.52 L304.26,469.05 L301.62,467.52 L301.62,464.48 L304.26,462.95 L306.91,464.48 ZM312.11,467.52 L309.47,469.05 L306.83,467.52 L306.83,464.48 L309.47,462.95 L312.11,464.48 ZM317.32,467.52 L314.67,469.05 L312.03,467.52 L312.03,464.48 L314.67,462.95 L317.32,464.48 ZM322.52,467.52 L319.88,469.05 L317.24,467.52 L317.24,464.48 L319.88,462.95 L322.52,464.48 ZM327.73,467.52 L325.08,469.05 L322.44,467.52 L322.44,464.48 L325.08,462.95 L327.73,464.48 ZM332.93,467.52 L330.29,469.05 L327.65,467.52 L327.65,464.48 L330.29,462.95 L332.93,464.48 ZM338.14,467.52 L335.49,469.05 L332.85,467.52 L332.85,464.48 L335.49,462.95 L338.14,464.48 ZM343.34,467.52 L340.70,469.05 L338.06,467.52 L338.06,464.48 L340.70,462.95 L343.34,464.48 ZM348.55,467.52 L345.90,469.05 L343.26,467.52 L343.26,464.48 L345.90,462.95 L348.55,464.48 ZM353.75,467.52 L351.11,469.05 L348.47,467.52 L348.47,464.48 L351.11,462.95 L353.75,464.48 ZM358.96,467.52 L356.31,469.05 L353.67,467.52 L353.67,464.48 L356.31,462.95 L358.96,464.48 ZM364.16,467.52 L361.52,469.05 L358.88,467.52 L358.88,464.48 L361.52,462.95 L364.16,464.48 ZM369.37,467.52 L366.72,469.05 L364.08,467.52 L364.08,464.48 L366.72,462.95 L369.37,464.48 ZM374.57,467.52 L371.93,469.05 L369.29,467.52 L369.29,464.48 L371.93,462.95 L374.57,464.48 ZM379.78,467.52 L377.13,469.05 L374.49,467.52 L374.49,464.48 L377.13,462.95 L379.78,464.48 ZM384.98,467.52 L382.34,469.05 L379.70,467.52 L379.70,464.48 L382.34,462.95 L384.98,464.48 ZM390.19,467.52 L387.54,469.05 L384.90,467.52 L384.90,464.48 L387.54,462.95 L390.19,464.48 ZM395.39,467.52 L392.75,469.05 L390.11,467.52 L390.11,464.48 L392.75,462.95 L395.39,464.48 ZM400.60,467.52 L397.95,469.05 L395.31,467.52 L395.31,464.48 L397.95,462.95 L400.60,464.48 ZM405.80,467.52 L403.16,469.05 L400.52,467.52 L400.52,464.48 L403.16,462.95 L405.80,464.48 ZM411.01,467.52 L408.36,469.05 L405.72,467.52 L405.72,464.48 L408.36,462.95 L411.01,464.48 ZM416.21,467.52 L413.57,469.05 L410.93,467.52 L410.93,464.48 L413.57,462.95 L416.21,464.48 ZM421.42,467.52 L418.77,469.05 L416.13,467.52 L416.13,464.48 L418.77,462.95 L421.42,464.48 ZM426.62,467.52 L423.98,469.05 L421.34,467.52 L421.34,464.48 L423.98,462.95 L426.62,464.48 ZM431.83,467.52 L429.18,469.05 L426.54,467.52 L426.54,464.48 L429.18,462.95 L431.83,464.48 ZM437.03,467.52 L434.39,469.05 L431.75,467.52 L431.75,464.48 L434.39,462.95 L437.03,464.48 ZM442.24,467.52 L439.59,469.05 L436.95,467.52 L436.95,464.48 L439.59,462.95 L442.24,464.48 ZM447.44,467.52 L444.80,469.05 L442.16,467.52 L442.16,464.48 L444.80,462.95 L447.44,464.48 Z" stroke="none" fill="#454545" stroke-width="1" clip-path="url(#clipD)"/>
<path d="M35.61,508.10 L42.01,508.10 L38.81,514.30 ZM40.81,508.10 L47.21,508.10 L44.01,514.30 ZM46.02,508.10 L52.42,508.10 L49.22,514.30 ZM51.22,508.10 L57.62,508.10 L54.42,514.30 ZM56.43,508.10 L62.83,508.10 L59.63,514.30 ZM61.63,508.10 L68.03,508.10 L64.83,514.30 ZM66.84,508.10 L73.24,508.10 L70.04,514.30 ZM72.04,508.10 L78.44,508.10 L75.24,514.30 ZM77.25,508.10 L83.65,508.10 L80.45,514.30 ZM82.45,508.10 L88.85,508.10 L85.65,514.30 ZM87.66,508.10 L94.06,508.10 L90.86,514.30 ZM92.86,508.10 L99.26,508.10 L96.06,514.30 ZM98.07,508.10 L104.47,508.10 L101.27,514.30 ZM103.27,508.10 L109.67,508.10 L106.47,514.30 ZM108.48,507.78 L114.88,507.78 L111.68,513.98 ZM113.68,507.39 L120.08,507.39 L116.88,513.59 ZM118.89,506.99 L125.29,506.99 L122.09,513.19 ZM124.09,506.59 L130.49,506.59 L127.29,512.79 ZM129.30,506.20 L135.70,506.20 L132.50,512.40 ZM134.50,505.80 L140.90,505.80 L137.70,512.00 ZM139.71,505.41 L146.11,505.41 L142.91,511.61 ZM144.91,505.01 L151.31,505.01 L148.11,511.21 ZM150.12,504.70 L156.52,504.70 L153.32,510.90 ZM155.32,504.70 L161.72,504.70 L158.52,510.90 ZM160.53,504.70 L166.93,504.70 L163.73,510.90 ZM165.73,504.70 L172.13,504.70 L168.93,510.90 ZM170.94,504.70 L177.34,504.70 L174.14,510.90 ZM176.14,504.70 L182.54,504.70 L179.34,510.90 ZM181.35,504.70 L187.75,504.70 L184.55,510.90 ZM186.55,504.70 L192.95,504.70 L189.75,510.90 ZM191.76,504.70 L198.16,504.70 L194.96,510.90 ZM196.96,504.70 L203.36,504.70 L200.16,510.90 ZM202.17,504.70 L208.57,504.70 L205.37,510.90 ZM207.37,504.70 L213.77,504.70 L210.57,510.90 ZM212.58,504.70 L218.98,504.70 L215.78,510.90 ZM217.78,504.70 L224.18,504.70 L220.98,510.90 ZM222.99,504.70 L229.39,504.70 L226.19,510.90 ZM228.19,504.70 L234.59,504.70 L231.39,510.90 ZM233.40,504.70 L239.80,504.70 L236.60,510.90 ZM238.60,504.70 L245.00,504.70 L241.80,510.90 ZM243.81,504.70 L250.21,504.70 L247.01,510.90 ZM249.01,504.70 L255.41,504.70 L252.21,510.90 ZM254.22,504.70 L260.62,504.70 L257.42,510.90 ZM259.42,504.70 L265.82,504.70 L262.62,510.90 ZM264.63,504.70 L271.03,504.70 L267.83,510.90 ZM269.83,504.70 L276.23,504.70 L273.03,510.90 ZM275.04,504.70 L281.44,504.70 L278.24,510.90 ZM280.24,504.70 L286.64,504.70 L283.44,510.90 ZM285.45,504.70 L291.85,504.70 L288.65,510.90 ZM290.65,504.55 L297.05,504.55 L293.85,510.75 ZM295.86,504.33 L302.26,504.33 L299.06,510.53 ZM301.06,504.14 L307.46,504.14 L304.26,510.34 ZM306.27,504.00 L312.67,504.00 L309.47,510.20 ZM311.47,503.92 L317.87,503.92 L314.67,510.12 ZM316.68,503.90 L323.08,503.90 L319.88,510.10 ZM321.88,503.95 L328.28,503.95 L325.08,510.15 ZM327.09,504.06 L333.49,504.06 L330.29,510.26 ZM332.29,504.22 L338.69,504.22 L335.49,510.42 ZM337.50,504.42 L343.90,504.42 L340.70,510.62 ZM342.70,504.64 L349.10,504.64 L345.90,510.84 ZM347.91,504.70 L354.31,504.70 L351.11,510.90 ZM353.11,504.70 L359.51,504.70 L356.31,510.90 ZM358.32,504.70 L364.72,504.70 L361.52,510.90 ZM363.52,504.70 L369.92,504.70 L366.72,510.90 ZM368.73,504.70 L375.13,504.70 L371.93,510.90 ZM373.93,504.70 L380.33,504.70 L377.13,510.90 ZM379.14,504.70 L385.54,504.70 L382.34,510.90 ZM384.34,504.70 L390.74,504.70 L387.54,510.90 ZM389.55,504.70 L395.95,504.70 L392.75,510.90 ZM394.75,504.70 L401.15,504.70 L397.95,510.90 ZM399.96,504.70 L406.36,504.70 L403.16,510.90 ZM405.16,504.70 L411.56,504.70 L408.36,510.90 ZM410.37,504.70 L416.77,504.70 L413.57,510.90 ZM415.57,504.70 L421.97,504.70 L418.77,510.90 ZM420.78,504.70 L427.18,504.70 L423.98,510.90 ZM425.98,504.70 L432.38,504.70 L429.18,510.90 ZM431.19,504.70 L437.59,504.70 L434.39,510.90 ZM436.39,504.70 L442.79,504.70 L439.59,510.90 ZM441.60,504.70 L448.00,504.70 L444.80,510.90 Z" stroke="none" fill="#6a72ec" stroke-width="1" clip-path="url(#clipD)"/>
<path d="M63.3,475.7 L63.3,479.5 L46,479.5" stroke="#555" fill="none" stroke-width="0.9" />
<path d="M42.4,479.5 L47.4,477 L47.4,482 z" stroke="none" fill="#555" stroke-width="1" />
<path d="M422.3,426.2 L422.3,430.4 L439,430.4" stroke="#ee3b30" fill="none" stroke-width="0.9" />
<path d="M443.2,430.4 L438,427.8 L438,433 z" stroke="none" fill="#ee3b30" stroke-width="1" />
<path d="M422.3,513.9 L422.3,517.5 L439,517.5" stroke="#6a72ec" fill="none" stroke-width="0.9" />
<path d="M443,517.5 L438,515 L438,520 z" stroke="none" fill="#6a72ec" stroke-width="1" />
<path d="M287.70,524.10 L291.30,527.70 L287.70,531.30 L284.10,527.70 Z" stroke="none" fill="#ee3b30" stroke-width="1" />
<text x="299.50" y="530.80" font-size="8.9" text-anchor="start" fill="#000" font-weight="normal" font-family='"Liberation Sans", sans-serif'  stroke="#000" stroke-width="0.06">CE</text>
<path d="M284.20,535.90 L291.20,535.90 L287.70,541.70 Z" stroke="none" fill="#6a72ec" stroke-width="1" />
<text x="299.50" y="541.80" font-size="8.9" text-anchor="start" fill="#000" font-weight="normal" font-family='"Liberation Sans", sans-serif'  stroke="#000" stroke-width="0.06">EE</text>
<text x="332.00" y="541.80" font-size="8.9" text-anchor="start" fill="#000" font-weight="normal" font-family='"Liberation Sans", sans-serif'  stroke="#000" stroke-width="0.06">400 mA cm<tspan dy="-3" font-size="5.5">-2</tspan></text>
<text x="479.20" y="240.70" font-size="10" text-anchor="start" fill="#000" font-weight="bold" font-family='"Liberation Sans", sans-serif'  stroke="#000" stroke-width="0.06">e</text>
<line x1="511.70" y1="372.50" x2="514.70" y2="372.50" stroke="#555" stroke-width="1" />
<text x="510.60" y="375.10" font-size="8.9" text-anchor="end" fill="#000" font-weight="normal" font-family='"Liberation Sans", sans-serif'  stroke="#000" stroke-width="0.06">0</text>
<line x1="511.70" y1="339.46" x2="514.70" y2="339.46" stroke="#555" stroke-width="1" />
<text x="510.60" y="342.06" font-size="8.9" text-anchor="end" fill="#000" font-weight="normal" font-family='"Liberation Sans", sans-serif'  stroke="#000" stroke-width="0.06">25</text>
<line x1="511.70" y1="306.42" x2="514.70" y2="306.42" stroke="#555" stroke-width="1" />
<text x="510.60" y="309.02" font-size="8.9" text-anchor="end" fill="#000" font-weight="normal" font-family='"Liberation Sans", sans-serif'  stroke="#000" stroke-width="0.06">50</text>
<line x1="511.70" y1="273.38" x2="514.70" y2="273.38" stroke="#555" stroke-width="1" />
<text x="510.60" y="275.98" font-size="8.9" text-anchor="end" fill="#000" font-weight="normal" font-family='"Liberation Sans", sans-serif'  stroke="#000" stroke-width="0.06">75</text>
<line x1="511.70" y1="240.34" x2="514.70" y2="240.34" stroke="#555" stroke-width="1" />
<text x="510.60" y="242.94" font-size="8.9" text-anchor="end" fill="#000" font-weight="normal" font-family='"Liberation Sans", sans-serif'  stroke="#000" stroke-width="0.06">100</text>
<line x1="512.90" y1="355.98" x2="514.70" y2="355.98" stroke="#555" stroke-width="1" />
<line x1="512.90" y1="322.94" x2="514.70" y2="322.94" stroke="#555" stroke-width="1" />
<line x1="512.90" y1="289.90" x2="514.70" y2="289.90" stroke="#555" stroke-width="1" />
<line x1="512.90" y1="256.86" x2="514.70" y2="256.86" stroke="#555" stroke-width="1" />
<line x1="514.70" y1="372.50" x2="514.70" y2="375.50" stroke="#555" stroke-width="1" />
<text x="514.70" y="384.30" font-size="8.9" text-anchor="middle" fill="#000" font-weight="normal" font-family='"Liberation Sans", sans-serif'  stroke="#000" stroke-width="0.06">0</text>
<line x1="545.32" y1="372.50" x2="545.32" y2="375.50" stroke="#555" stroke-width="1" />
<text x="545.32" y="384.30" font-size="8.9" text-anchor="middle" fill="#000" font-weight="normal" font-family='"Liberation Sans", sans-serif'  stroke="#000" stroke-width="0.06">100</text>
<line x1="575.94" y1="372.50" x2="575.94" y2="375.50" stroke="#555" stroke-width="1" />
<text x="575.94" y="384.30" font-size="8.9" text-anchor="middle" fill="#000" font-weight="normal" font-family='"Liberation Sans", sans-serif'  stroke="#000" stroke-width="0.06">200</text>
<line x1="606.55" y1="372.50" x2="606.55" y2="375.50" stroke="#555" stroke-width="1" />
<text x="606.55" y="384.30" font-size="8.9" text-anchor="middle" fill="#000" font-weight="normal" font-family='"Liberation Sans", sans-serif'  stroke="#000" stroke-width="0.06">300</text>
<line x1="637.17" y1="372.50" x2="637.17" y2="375.50" stroke="#555" stroke-width="1" />
<text x="637.17" y="384.30" font-size="8.9" text-anchor="middle" fill="#000" font-weight="normal" font-family='"Liberation Sans", sans-serif'  stroke="#000" stroke-width="0.06">400</text>
<line x1="667.79" y1="372.50" x2="667.79" y2="375.50" stroke="#555" stroke-width="1" />
<text x="667.79" y="384.30" font-size="8.9" text-anchor="middle" fill="#000" font-weight="normal" font-family='"Liberation Sans", sans-serif'  stroke="#000" stroke-width="0.06">500</text>
<line x1="530.01" y1="372.50" x2="530.01" y2="374.30" stroke="#555" stroke-width="1" />
<line x1="560.63" y1="372.50" x2="560.63" y2="374.30" stroke="#555" stroke-width="1" />
<line x1="591.25" y1="372.50" x2="591.25" y2="374.30" stroke="#555" stroke-width="1" />
<line x1="621.86" y1="372.50" x2="621.86" y2="374.30" stroke="#555" stroke-width="1" />
<line x1="652.48" y1="372.50" x2="652.48" y2="374.30" stroke="#555" stroke-width="1" />
<rect x="514.70" y="237.70" width="168.40" height="134.80" fill="none" stroke="#7a7a7a" stroke-width="1.25" />
<text x="598.50" y="394.90" font-size="8.9" text-anchor="middle" fill="#000" font-weight="normal" font-family='"Liberation Sans", sans-serif'  stroke="#000" stroke-width="0.06">Current density (mA cm<tspan dy="-3" font-size="5.5">-2</tspan><tspan dy="3">)</tspan></text>
<text x="0.00" y="0.00" font-size="8.9" text-anchor="middle" fill="#000" font-weight="normal" font-family='"Liberation Sans", sans-serif' transform="translate(492,305) rotate(-90)" stroke="#000" stroke-width="0.06">Capacity utilization (%)</text>
<ellipse cx="626" cy="272.5" rx="58" ry="16.3" transform="rotate(30 626 272.5)" fill="#ccfbec"/>
<line x1="543.60" y1="241.70" x2="682.90" y2="321.30" stroke="#222" stroke-width="1.1" stroke-dasharray="3,1.8"/>
<path d="M524.10,241.70 L529.50,238.50 L529.50,244.90 Z" stroke="#8c8c8c" fill="none" stroke-width="1.3" />
<path d="M530.30,243.70 L535.70,240.50 L535.70,246.90 Z" stroke="#8c8c8c" fill="none" stroke-width="1.3" />
<path d="M536.10,244.50 L541.50,241.30 L541.50,247.70 Z" stroke="#8c8c8c" fill="none" stroke-width="1.3" />
<path d="M543.10,245.70 L548.50,242.50 L548.50,248.90 Z" stroke="#8c8c8c" fill="none" stroke-width="1.3" />
<path d="M549.00,248.80 L554.40,245.60 L554.40,252.00 Z" stroke="#8c8c8c" fill="none" stroke-width="1.3" />
<path d="M518.20,251.90 L523.60,248.70 L523.60,255.10 Z" stroke="#8c8c8c" fill="none" stroke-width="1.3" />
<path d="M522.90,249.10 L528.30,245.90 L528.30,252.30 Z" stroke="#8c8c8c" fill="none" stroke-width="1.3" />
<path d="M529.10,248.30 L534.50,245.10 L534.50,251.50 Z" stroke="#8c8c8c" fill="none" stroke-width="1.3" />
<path d="M535.30,249.90 L540.70,246.70 L540.70,253.10 Z" stroke="#8c8c8c" fill="none" stroke-width="1.3" />
<path d="M524.40,253.80 L529.80,250.60 L529.80,257.00 Z" stroke="#8c8c8c" fill="none" stroke-width="1.3" />
<path d="M530.70,254.60 L536.10,251.40 L536.10,257.80 Z" stroke="#8c8c8c" fill="none" stroke-width="1.3" />
<path d="M536.10,253.80 L541.50,250.60 L541.50,257.00 Z" stroke="#8c8c8c" fill="none" stroke-width="1.3" />
<path d="M520.50,257.70 L525.90,254.50 L525.90,260.90 Z" stroke="#8c8c8c" fill="none" stroke-width="1.3" />
<path d="M535.30,258.50 L540.70,255.30 L540.70,261.70 Z" stroke="#8c8c8c" fill="none" stroke-width="1.3" />
<path d="M524.40,263.10 L529.80,259.90 L529.80,266.30 Z" stroke="#8c8c8c" fill="none" stroke-width="1.3" />
<path d="M529.90,262.40 L535.30,259.20 L535.30,265.60 Z" stroke="#8c8c8c" fill="none" stroke-width="1.3" />
<path d="M534.50,263.90 L539.90,260.70 L539.90,267.10 Z" stroke="#8c8c8c" fill="none" stroke-width="1.3" />
<path d="M542.30,264.70 L547.70,261.50 L547.70,267.90 Z" stroke="#8c8c8c" fill="none" stroke-width="1.3" />
<path d="M561.00,262.40 L566.40,259.20 L566.40,265.60 Z" stroke="#8c8c8c" fill="none" stroke-width="1.3" />
<path d="M517.40,267.80 L522.80,264.60 L522.80,271.00 Z" stroke="#8c8c8c" fill="none" stroke-width="1.3" />
<path d="M530.70,266.30 L536.10,263.10 L536.10,269.50 Z" stroke="#8c8c8c" fill="none" stroke-width="1.3" />
<path d="M536.90,267.80 L542.30,264.60 L542.30,271.00 Z" stroke="#8c8c8c" fill="none" stroke-width="1.3" />
<path d="M542.30,268.60 L547.70,265.40 L547.70,271.80 Z" stroke="#8c8c8c" fill="none" stroke-width="1.3" />
<path d="M521.30,273.30 L526.70,270.10 L526.70,276.50 Z" stroke="#8c8c8c" fill="none" stroke-width="1.3" />
<path d="M542.30,272.50 L547.70,269.30 L547.70,275.70 Z" stroke="#8c8c8c" fill="none" stroke-width="1.3" />
<path d="M523.60,279.50 L529.00,276.30 L529.00,282.70 Z" stroke="#8c8c8c" fill="none" stroke-width="1.3" />
<path d="M536.10,277.20 L541.50,274.00 L541.50,280.40 Z" stroke="#8c8c8c" fill="none" stroke-width="1.3" />
<path d="M542.30,277.90 L547.70,274.70 L547.70,281.10 Z" stroke="#8c8c8c" fill="none" stroke-width="1.3" />
<path d="M542.30,284.20 L547.70,281.00 L547.70,287.40 Z" stroke="#8c8c8c" fill="none" stroke-width="1.3" />
<path d="M572.70,271.70 L578.10,268.50 L578.10,274.90 Z" stroke="#8c8c8c" fill="none" stroke-width="1.3" />
<path d="M542.30,292.00 L547.70,288.80 L547.70,295.20 Z" stroke="#8c8c8c" fill="none" stroke-width="1.3" />
<path d="M572.70,297.10 L578.10,293.90 L578.10,300.30 Z" stroke="#8c8c8c" fill="none" stroke-width="1.3" />
<path d="M527.20,302.80 L532.60,299.60 L532.60,306.00 Z" stroke="#8c8c8c" fill="none" stroke-width="1.3" />
<path d="M536.10,306.40 L541.50,303.20 L541.50,309.60 Z" stroke="#8c8c8c" fill="none" stroke-width="1.3" />
<path d="M542.30,300.50 L547.70,297.30 L547.70,303.70 Z" stroke="#8c8c8c" fill="none" stroke-width="1.3" />
<path d="M548.60,302.10 L554.00,298.90 L554.00,305.30 Z" stroke="#8c8c8c" fill="none" stroke-width="1.3" />
<path d="M549.30,311.40 L554.70,308.20 L554.70,314.60 Z" stroke="#8c8c8c" fill="none" stroke-width="1.3" />
<path d="M542.40,336.10 L547.80,332.90 L547.80,339.30 Z" stroke="#8c8c8c" fill="none" stroke-width="1.3" />
<path d="M548.50,346.10 L553.90,342.90 L553.90,349.30 Z" stroke="#8c8c8c" fill="none" stroke-width="1.3" />
<path d="M548.50,358.30 L553.90,355.10 L553.90,361.50 Z" stroke="#8c8c8c" fill="none" stroke-width="1.3" />
<path d="M557.60,363.70 L563.00,360.50 L563.00,366.90 Z" stroke="#8c8c8c" fill="none" stroke-width="1.3" />
<path d="M633.30,315.90 L638.70,312.70 L638.70,319.10 Z" stroke="#8c8c8c" fill="none" stroke-width="1.3" />
<path d="M603.00,281.00 L608.40,277.80 L608.40,284.20 Z" stroke="#8c8c8c" fill="none" stroke-width="1.3" />
<rect x="542.30" y="253.40" width="5.60" height="5.60" fill="#6a72ec" stroke="none" stroke-width="1" />
<rect x="572.60" y="264.00" width="5.60" height="5.60" fill="#6a72ec" stroke="none" stroke-width="1" />
<rect x="603.80" y="287.30" width="5.60" height="5.60" fill="#6a72ec" stroke="none" stroke-width="1" />
<rect x="634.10" y="332.70" width="5.60" height="5.60" fill="#6a72ec" stroke="none" stroke-width="1" />
<circle cx="575.40" cy="247.70" r="3.40" fill="#ee3b30" stroke="none" stroke-width="1" />
<circle cx="606.60" cy="253.80" r="3.40" fill="#ee3b30" stroke="none" stroke-width="1" />
<circle cx="636.90" cy="266.80" r="3.40" fill="#ee3b30" stroke="none" stroke-width="1" />
<circle cx="667.80" cy="294.70" r="3.40" fill="#ee3b30" stroke="none" stroke-width="1" />
<text x="645.40" y="259.40" font-size="8.5" text-anchor="start" fill="#f52a2a" font-weight="normal" font-family='"Liberation Sans", sans-serif'  stroke="#f52a2a" stroke-width="0.06">M-QCTF</text>
<path d="M658.7,261.3 L652.3,269.6" stroke="#f03030" fill="none" stroke-width="1.2" />
<path d="M649.6,273.2 L649.9,266.9 L654.6,270.3 z" stroke="none" fill="#f03030" stroke-width="1" />
<rect x="597.70" y="350.90" width="5.60" height="5.60" fill="#6a72ec" stroke="none" stroke-width="1" />
<text x="610.80" y="356.80" font-size="8.9" text-anchor="start" fill="#000" font-weight="normal" font-family='"Liberation Sans", sans-serif'  stroke="#000" stroke-width="0.06">P-QCTF</text>
<path d="M597.70,364.30 L603.30,361.00 L603.30,367.60 Z" stroke="#8c8c8c" fill="none" stroke-width="1.1" />
<text x="610.80" y="367.40" font-size="8.9" text-anchor="start" fill="#000" font-weight="normal" font-family='"Liberation Sans", sans-serif'  stroke="#000" stroke-width="0.06">Flexible ploymers</text>
<text x="480.50" y="421.00" font-size="10" text-anchor="start" fill="#000" font-weight="bold" font-family='"Liberation Sans", sans-serif'  stroke="#000" stroke-width="0.06">f</text>
<line x1="511.50" y1="544.50" x2="514.50" y2="544.50" stroke="#555" stroke-width="1" />
<text x="510.20" y="547.10" font-size="8.9" text-anchor="end" fill="#000" font-weight="normal" font-family='"Liberation Sans", sans-serif'  stroke="#000" stroke-width="0.06">20</text>
<line x1="511.50" y1="512.85" x2="514.50" y2="512.85" stroke="#555" stroke-width="1" />
<text x="510.20" y="515.45" font-size="8.9" text-anchor="end" fill="#000" font-weight="normal" font-family='"Liberation Sans", sans-serif'  stroke="#000" stroke-width="0.06">40</text>
<line x1="511.50" y1="481.20" x2="514.50" y2="481.20" stroke="#555" stroke-width="1" />
<text x="510.20" y="483.80" font-size="8.9" text-anchor="end" fill="#000" font-weight="normal" font-family='"Liberation Sans", sans-serif'  stroke="#000" stroke-width="0.06">60</text>
<line x1="511.50" y1="449.55" x2="514.50" y2="449.55" stroke="#555" stroke-width="1" />
<text x="510.20" y="452.15" font-size="8.9" text-anchor="end" fill="#000" font-weight="normal" font-family='"Liberation Sans", sans-serif'  stroke="#000" stroke-width="0.06">80</text>
<line x1="511.50" y1="417.90" x2="514.50" y2="417.90" stroke="#555" stroke-width="1" />
<text x="510.20" y="420.50" font-size="8.9" text-anchor="end" fill="#000" font-weight="normal" font-family='"Liberation Sans", sans-serif'  stroke="#000" stroke-width="0.06">100</text>
<line x1="512.70" y1="528.67" x2="514.50" y2="528.67" stroke="#555" stroke-width="1" />
<line x1="512.70" y1="497.02" x2="514.50" y2="497.02" stroke="#555" stroke-width="1" />
<line x1="512.70" y1="465.38" x2="514.50" y2="465.38" stroke="#555" stroke-width="1" />
<line x1="512.70" y1="433.73" x2="514.50" y2="433.73" stroke="#555" stroke-width="1" />
<line x1="514.50" y1="552.70" x2="514.50" y2="555.70" stroke="#555" stroke-width="1" />
<text x="514.50" y="564.60" font-size="8.9" text-anchor="middle" fill="#000" font-weight="normal" font-family='"Liberation Sans", sans-serif'  stroke="#000" stroke-width="0.06">0</text>
<line x1="545.14" y1="552.70" x2="545.14" y2="555.70" stroke="#555" stroke-width="1" />
<text x="545.14" y="564.60" font-size="8.9" text-anchor="middle" fill="#000" font-weight="normal" font-family='"Liberation Sans", sans-serif'  stroke="#000" stroke-width="0.06">100</text>
<line x1="575.77" y1="552.70" x2="575.77" y2="555.70" stroke="#555" stroke-width="1" />
<text x="575.77" y="564.60" font-size="8.9" text-anchor="middle" fill="#000" font-weight="normal" font-family='"Liberation Sans", sans-serif'  stroke="#000" stroke-width="0.06">200</text>
<line x1="606.41" y1="552.70" x2="606.41" y2="555.70" stroke="#555" stroke-width="1" />
<text x="606.41" y="564.60" font-size="8.9" text-anchor="middle" fill="#000" font-weight="normal" font-family='"Liberation Sans", sans-serif'  stroke="#000" stroke-width="0.06">300</text>
<line x1="637.05" y1="552.70" x2="637.05" y2="555.70" stroke="#555" stroke-width="1" />
<text x="637.05" y="564.60" font-size="8.9" text-anchor="middle" fill="#000" font-weight="normal" font-family='"Liberation Sans", sans-serif'  stroke="#000" stroke-width="0.06">400</text>
<line x1="667.68" y1="552.70" x2="667.68" y2="555.70" stroke="#555" stroke-width="1" />
<text x="667.68" y="564.60" font-size="8.9" text-anchor="middle" fill="#000" font-weight="normal" font-family='"Liberation Sans", sans-serif'  stroke="#000" stroke-width="0.06">500</text>
<line x1="529.82" y1="552.70" x2="529.82" y2="554.50" stroke="#555" stroke-width="1" />
<line x1="560.45" y1="552.70" x2="560.45" y2="554.50" stroke="#555" stroke-width="1" />
<line x1="591.09" y1="552.70" x2="591.09" y2="554.50" stroke="#555" stroke-width="1" />
<line x1="621.73" y1="552.70" x2="621.73" y2="554.50" stroke="#555" stroke-width="1" />
<line x1="652.36" y1="552.70" x2="652.36" y2="554.50" stroke="#555" stroke-width="1" />
<rect x="514.50" y="417.50" width="168.50" height="135.20" fill="none" stroke="#7a7a7a" stroke-width="1.25" />
<text x="598.50" y="574.50" font-size="8.9" text-anchor="middle" fill="#000" font-weight="normal" font-family='"Liberation Sans", sans-serif'  stroke="#000" stroke-width="0.06">Current density (mA cm<tspan dy="-3" font-size="5.5">-2</tspan><tspan dy="3">)</tspan></text>
<text x="0.00" y="0.00" font-size="8.9" text-anchor="middle" fill="#000" font-weight="normal" font-family='"Liberation Sans", sans-serif' transform="translate(492,484.6) rotate(-90)" stroke="#000" stroke-width="0.06">Energy efficiency (%)</text>
<ellipse cx="595.5" cy="462.6" rx="91" ry="14.8" transform="rotate(26.2 595.5 462.6)" fill="#ccfbec"/>
<line x1="514.50" y1="423.70" x2="683.00" y2="532.60" stroke="#222" stroke-width="1.1" stroke-dasharray="3,1.8"/>
<path d="M516.60,433.70 L522.00,430.50 L522.00,436.90 Z" stroke="#8c8c8c" fill="none" stroke-width="1.3" />
<path d="M517.70,448.20 L523.10,445.00 L523.10,451.40 Z" stroke="#8c8c8c" fill="none" stroke-width="1.3" />
<path d="M529.10,448.20 L534.50,445.00 L534.50,451.40 Z" stroke="#8c8c8c" fill="none" stroke-width="1.3" />
<path d="M530.10,455.40 L535.50,452.20 L535.50,458.60 Z" stroke="#8c8c8c" fill="none" stroke-width="1.3" />
<path d="M535.30,455.40 L540.70,452.20 L540.70,458.60 Z" stroke="#8c8c8c" fill="none" stroke-width="1.3" />
<path d="M523.90,463.70 L529.30,460.50 L529.30,466.90 Z" stroke="#8c8c8c" fill="none" stroke-width="1.3" />
<path d="M534.30,462.70 L539.70,459.50 L539.70,465.90 Z" stroke="#8c8c8c" fill="none" stroke-width="1.3" />
<path d="M517.70,475.10 L523.10,471.90 L523.10,478.30 Z" stroke="#8c8c8c" fill="none" stroke-width="1.3" />
<path d="M524.90,474.10 L530.30,470.90 L530.30,477.30 Z" stroke="#8c8c8c" fill="none" stroke-width="1.3" />
<path d="M533.20,468.90 L538.60,465.70 L538.60,472.10 Z" stroke="#8c8c8c" fill="none" stroke-width="1.3" />
<path d="M538.40,471.00 L543.80,467.80 L543.80,474.20 Z" stroke="#8c8c8c" fill="none" stroke-width="1.3" />
<path d="M547.70,471.00 L553.10,467.80 L553.10,474.20 Z" stroke="#8c8c8c" fill="none" stroke-width="1.3" />
<path d="M529.10,481.40 L534.50,478.20 L534.50,484.60 Z" stroke="#8c8c8c" fill="none" stroke-width="1.3" />
<path d="M536.30,481.40 L541.70,478.20 L541.70,484.60 Z" stroke="#8c8c8c" fill="none" stroke-width="1.3" />
<path d="M542.60,479.30 L548.00,476.10 L548.00,482.50 Z" stroke="#8c8c8c" fill="none" stroke-width="1.3" />
<path d="M519.70,491.70 L525.10,488.50 L525.10,494.90 Z" stroke="#8c8c8c" fill="none" stroke-width="1.3" />
<path d="M534.30,487.60 L539.70,484.40 L539.70,490.80 Z" stroke="#8c8c8c" fill="none" stroke-width="1.3" />
<path d="M541.50,488.60 L546.90,485.40 L546.90,491.80 Z" stroke="#8c8c8c" fill="none" stroke-width="1.3" />
<path d="M547.70,495.90 L553.10,492.70 L553.10,499.10 Z" stroke="#8c8c8c" fill="none" stroke-width="1.3" />
<path d="M529.10,502.10 L534.50,498.90 L534.50,505.30 Z" stroke="#8c8c8c" fill="none" stroke-width="1.3" />
<path d="M536.30,502.10 L541.70,498.90 L541.70,505.30 Z" stroke="#8c8c8c" fill="none" stroke-width="1.3" />
<path d="M541.50,502.10 L546.90,498.90 L546.90,505.30 Z" stroke="#8c8c8c" fill="none" stroke-width="1.3" />
<path d="M547.70,500.00 L553.10,496.80 L553.10,503.20 Z" stroke="#8c8c8c" fill="none" stroke-width="1.3" />
<path d="M522.90,508.30 L528.30,505.10 L528.30,511.50 Z" stroke="#8c8c8c" fill="none" stroke-width="1.3" />
<path d="M541.50,508.30 L546.90,505.10 L546.90,511.50 Z" stroke="#8c8c8c" fill="none" stroke-width="1.3" />
<path d="M541.50,518.70 L546.90,515.50 L546.90,521.90 Z" stroke="#8c8c8c" fill="none" stroke-width="1.3" />
<path d="M548.80,517.70 L554.20,514.50 L554.20,520.90 Z" stroke="#8c8c8c" fill="none" stroke-width="1.3" />
<path d="M557.30,529.50 L562.70,526.30 L562.70,532.70 Z" stroke="#8c8c8c" fill="none" stroke-width="1.3" />
<path d="M560.20,485.50 L565.60,482.30 L565.60,488.70 Z" stroke="#8c8c8c" fill="none" stroke-width="1.3" />
<path d="M571.60,471.00 L577.00,467.80 L577.00,474.20 Z" stroke="#8c8c8c" fill="none" stroke-width="1.3" />
<path d="M572.60,500.00 L578.00,496.80 L578.00,503.20 Z" stroke="#8c8c8c" fill="none" stroke-width="1.3" />
<path d="M601.90,488.30 L607.30,485.10 L607.30,491.50 Z" stroke="#8c8c8c" fill="none" stroke-width="1.3" />
<path d="M632.70,507.70 L638.10,504.50 L638.10,510.90 Z" stroke="#8c8c8c" fill="none" stroke-width="1.3" />
<path d="M546.60,516.00 L552.00,512.80 L552.00,519.20 Z" stroke="#8c8c8c" fill="none" stroke-width="1.3" />
<path d="M552.80,529.50 L558.20,526.30 L558.20,532.70 Z" stroke="#8c8c8c" fill="none" stroke-width="1.3" />
<path d="M542.10,487.10 L547.50,483.90 L547.50,490.30 Z" stroke="#8c8c8c" fill="none" stroke-width="1.3" />
<path d="M542.10,482.50 L547.50,479.30 L547.50,485.70 Z" stroke="#8c8c8c" fill="none" stroke-width="1.3" />
<path d="M540.80,477.90 L546.20,474.70 L546.20,481.10 Z" stroke="#8c8c8c" fill="none" stroke-width="1.3" />
<path d="M542.10,503.50 L547.50,500.30 L547.50,506.70 Z" stroke="#8c8c8c" fill="none" stroke-width="1.3" />
<path d="M542.10,509.40 L547.50,506.20 L547.50,512.60 Z" stroke="#8c8c8c" fill="none" stroke-width="1.3" />
<path d="M547.40,500.90 L552.80,497.70 L552.80,504.10 Z" stroke="#8c8c8c" fill="none" stroke-width="1.3" />
<path d="M522.80,430.80 L517.20,427.50 L517.20,434.10 Z" stroke="#3c1888" fill="none" stroke-width="1.3" />
<path d="M522.80,433.90 L517.20,430.60 L517.20,437.20 Z" stroke="#3c1888" fill="none" stroke-width="1.3" />
<path d="M523.80,438.50 L518.20,435.20 L518.20,441.80 Z" stroke="#3c1888" fill="none" stroke-width="1.3" />
<path d="M529.00,442.50 L523.40,439.20 L523.40,445.80 Z" stroke="#3c1888" fill="none" stroke-width="1.3" />
<path d="M529.60,449.20 L524.00,445.90 L524.00,452.50 Z" stroke="#3c1888" fill="none" stroke-width="1.3" />
<path d="M524.40,455.40 L518.80,452.10 L518.80,458.70 Z" stroke="#3c1888" fill="none" stroke-width="1.3" />
<path d="M529.00,456.30 L523.40,453.00 L523.40,459.60 Z" stroke="#3c1888" fill="none" stroke-width="1.3" />
<path d="M535.10,454.80 L529.50,451.50 L529.50,458.10 Z" stroke="#3c1888" fill="none" stroke-width="1.3" />
<path d="M535.70,463.10 L530.10,459.80 L530.10,466.40 Z" stroke="#3c1888" fill="none" stroke-width="1.3" />
<path d="M541.30,465.20 L535.70,461.90 L535.70,468.50 Z" stroke="#3c1888" fill="none" stroke-width="1.3" />
<path d="M535.70,473.30 L530.10,470.00 L530.10,476.60 Z" stroke="#3c1888" fill="none" stroke-width="1.3" />
<path d="M541.30,475.40 L535.70,472.10 L535.70,478.70 Z" stroke="#3c1888" fill="none" stroke-width="1.3" />
<path d="M529.60,486.20 L524.00,482.90 L524.00,489.50 Z" stroke="#3c1888" fill="none" stroke-width="1.3" />
<path d="M541.90,489.30 L536.30,486.00 L536.30,492.60 Z" stroke="#3c1888" fill="none" stroke-width="1.3" />
<path d="M535.70,527.70 L530.10,524.40 L530.10,531.00 Z" stroke="#3c1888" fill="none" stroke-width="1.3" />
<rect x="542.40" y="461.20" width="5.60" height="5.60" fill="#6a72ec" stroke="none" stroke-width="1" />
<rect x="572.60" y="475.70" width="5.60" height="5.60" fill="#6a72ec" stroke="none" stroke-width="1" />
<rect x="603.40" y="494.20" width="5.60" height="5.60" fill="#6a72ec" stroke="none" stroke-width="1" />
<rect x="634.20" y="513.20" width="5.60" height="5.60" fill="#6a72ec" stroke="none" stroke-width="1" />
<circle cx="520.00" cy="424.00" r="3.40" fill="#ee3b30" stroke="none" stroke-width="1" />
<circle cx="526.80" cy="427.10" r="3.40" fill="#ee3b30" stroke="none" stroke-width="1" />
<circle cx="533.00" cy="430.80" r="3.40" fill="#ee3b30" stroke="none" stroke-width="1" />
<circle cx="538.50" cy="434.50" r="3.40" fill="#ee3b30" stroke="none" stroke-width="1" />
<circle cx="544.60" cy="440.60" r="3.40" fill="#ee3b30" stroke="none" stroke-width="1" />
<circle cx="575.40" cy="454.20" r="3.40" fill="#ee3b30" stroke="none" stroke-width="1" />
<circle cx="606.20" cy="466.50" r="3.40" fill="#ee3b30" stroke="none" stroke-width="1" />
<circle cx="637.00" cy="482.50" r="3.40" fill="#ee3b30" stroke="none" stroke-width="1" />
<circle cx="667.10" cy="497.60" r="3.40" fill="#ee3b30" stroke="none" stroke-width="1" />
<text x="621.60" y="450.80" font-size="8.5" text-anchor="start" fill="#f52a2a" font-weight="normal" font-family='"Liberation Sans", sans-serif'  stroke="#f52a2a" stroke-width="0.06">M-QCTF</text>
<path d="M633.9,455.4 L628.6,463.6" stroke="#f03030" fill="none" stroke-width="1.2" />
<path d="M626.2,467.3 L626.3,461.1 L631.2,464.1 z" stroke="none" fill="#f03030" stroke-width="1" />
<rect x="598.20" y="521.90" width="5.60" height="5.60" fill="#6a72ec" stroke="none" stroke-width="1" />
<text x="610.80" y="527.80" font-size="8.9" text-anchor="start" fill="#000" font-weight="normal" font-family='"Liberation Sans", sans-serif'  stroke="#000" stroke-width="0.06">P-QCTF</text>
<path d="M603.80,534.80 L598.20,531.50 L598.20,538.10 Z" stroke="#3c1888" fill="none" stroke-width="1.3" />
<text x="610.80" y="537.90" font-size="8.9" text-anchor="start" fill="#000" font-weight="normal" font-family='"Liberation Sans", sans-serif'  stroke="#000" stroke-width="0.06">PIMs</text>
<path d="M598.20,546.20 L603.80,542.90 L603.80,549.50 Z" stroke="#8c8c8c" fill="none" stroke-width="1.1" />
<text x="610.80" y="549.30" font-size="8.9" text-anchor="start" fill="#000" font-weight="normal" font-family='"Liberation Sans", sans-serif'  stroke="#000" stroke-width="0.06">Flexible polymers</text></svg></body></html>
